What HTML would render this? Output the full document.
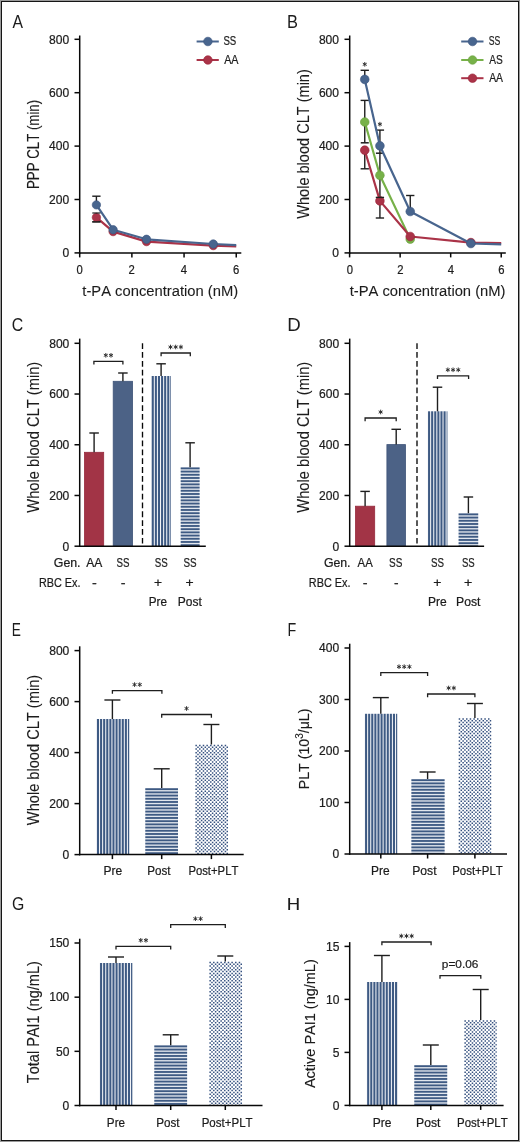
<!DOCTYPE html>
<html><head><meta charset="utf-8"><title>Figure</title>
<style>html,body{margin:0;padding:0;background:#fff;width:520px;height:1142px;overflow:hidden;font-family:"Liberation Sans",sans-serif}</style>
</head><body>
<svg width="520" height="1142" viewBox="0 0 520 1142" style="display:block">
<defs>



</defs>
<rect x="0" y="0" width="520" height="1142" fill="#ffffff"/>
<rect x="0.5" y="0.5" width="519" height="1141" fill="none" stroke="#9a9a9a" stroke-width="1"/>
<rect x="1.5" y="1.5" width="517" height="1139" fill="none" stroke="#151515" stroke-width="1"/>
<line x1="79.70" y1="35.50" x2="79.70" y2="253.65" stroke="#080808" stroke-width="1.5" />
<line x1="74.50" y1="252.90" x2="79.70" y2="252.90" stroke="#080808" stroke-width="1.5" />
<line x1="74.50" y1="199.50" x2="79.70" y2="199.50" stroke="#080808" stroke-width="1.5" />
<line x1="74.50" y1="146.10" x2="79.70" y2="146.10" stroke="#080808" stroke-width="1.5" />
<line x1="74.50" y1="92.70" x2="79.70" y2="92.70" stroke="#080808" stroke-width="1.5" />
<line x1="74.50" y1="39.30" x2="79.70" y2="39.30" stroke="#080808" stroke-width="1.5" />
<line x1="78.95" y1="252.90" x2="241.30" y2="252.90" stroke="#080808" stroke-width="1.5" />
<line x1="79.70" y1="252.90" x2="79.70" y2="257.40" stroke="#080808" stroke-width="1.5" />
<line x1="131.88" y1="252.90" x2="131.88" y2="257.40" stroke="#080808" stroke-width="1.5" />
<line x1="184.06" y1="252.90" x2="184.06" y2="257.40" stroke="#080808" stroke-width="1.5" />
<line x1="236.24" y1="252.90" x2="236.24" y2="257.40" stroke="#080808" stroke-width="1.5" />
<polyline points="96.40,217.40 113.10,231.60 146.49,241.60 213.28,245.60 236.24,246.40" fill="none" stroke="#aa3348" stroke-width="2.2" stroke-linejoin="round"/>
<line x1="96.40" y1="213.10" x2="96.40" y2="221.80" stroke="#1e1e1e" stroke-width="1.4" />
<line x1="92.25" y1="221.80" x2="100.55" y2="221.80" stroke="#1e1e1e" stroke-width="1.4" />
<circle cx="96.40" cy="217.40" r="4.20" fill="#aa3348" stroke="#9a2438" stroke-width="0.6"/>
<circle cx="113.10" cy="231.60" r="4.20" fill="#aa3348" stroke="#9a2438" stroke-width="0.6"/>
<circle cx="146.49" cy="241.60" r="4.20" fill="#aa3348" stroke="#9a2438" stroke-width="0.6"/>
<circle cx="213.28" cy="245.60" r="4.20" fill="#aa3348" stroke="#9a2438" stroke-width="0.6"/>
<line x1="96.40" y1="204.90" x2="96.40" y2="196.20" stroke="#1e1e1e" stroke-width="1.4" />
<line x1="92.25" y1="196.20" x2="100.55" y2="196.20" stroke="#1e1e1e" stroke-width="1.4" />
<polyline points="96.40,204.90 113.10,229.70 146.49,239.30 213.28,244.00 236.24,245.20" fill="none" stroke="#48658e" stroke-width="2.2" stroke-linejoin="round"/>
<circle cx="96.40" cy="204.90" r="4.20" fill="#48658e" stroke="#3c5680" stroke-width="0.6"/>
<circle cx="113.10" cy="229.70" r="4.20" fill="#48658e" stroke="#3c5680" stroke-width="0.6"/>
<circle cx="146.49" cy="239.30" r="4.20" fill="#48658e" stroke="#3c5680" stroke-width="0.6"/>
<circle cx="213.28" cy="244.00" r="4.20" fill="#48658e" stroke="#3c5680" stroke-width="0.6"/>
<line x1="92.30" y1="221.90" x2="100.50" y2="221.90" stroke="#1e1e1e" stroke-width="1.2" />
<line x1="92.30" y1="213.00" x2="100.50" y2="213.00" stroke="#1e1e1e" stroke-width="1.2" />
<line x1="196.60" y1="41.50" x2="218.80" y2="41.50" stroke="#48658e" stroke-width="2.0" />
<circle cx="207.90" cy="41.50" r="4.30" fill="#48658e" stroke="#3c5680" stroke-width="0.6"/>
<line x1="196.60" y1="60.00" x2="218.80" y2="60.00" stroke="#aa3348" stroke-width="2.0" />
<circle cx="207.90" cy="60.00" r="4.30" fill="#aa3348" stroke="#9a2438" stroke-width="0.6"/>
<line x1="349.70" y1="35.50" x2="349.70" y2="253.65" stroke="#080808" stroke-width="1.5" />
<line x1="344.50" y1="252.90" x2="349.70" y2="252.90" stroke="#080808" stroke-width="1.5" />
<line x1="344.50" y1="199.50" x2="349.70" y2="199.50" stroke="#080808" stroke-width="1.5" />
<line x1="344.50" y1="146.10" x2="349.70" y2="146.10" stroke="#080808" stroke-width="1.5" />
<line x1="344.50" y1="92.70" x2="349.70" y2="92.70" stroke="#080808" stroke-width="1.5" />
<line x1="344.50" y1="39.30" x2="349.70" y2="39.30" stroke="#080808" stroke-width="1.5" />
<line x1="348.95" y1="252.90" x2="505.80" y2="252.90" stroke="#080808" stroke-width="1.5" />
<line x1="349.60" y1="252.90" x2="349.60" y2="257.40" stroke="#080808" stroke-width="1.5" />
<line x1="400.14" y1="252.90" x2="400.14" y2="257.40" stroke="#080808" stroke-width="1.5" />
<line x1="450.68" y1="252.90" x2="450.68" y2="257.40" stroke="#080808" stroke-width="1.5" />
<line x1="501.22" y1="252.90" x2="501.22" y2="257.40" stroke="#080808" stroke-width="1.5" />
<line x1="364.76" y1="79.40" x2="364.76" y2="70.30" stroke="#1e1e1e" stroke-width="1.4" />
<line x1="360.61" y1="70.30" x2="368.91" y2="70.30" stroke="#1e1e1e" stroke-width="1.4" />
<line x1="364.76" y1="142.80" x2="364.76" y2="100.40" stroke="#1e1e1e" stroke-width="1.4" />
<line x1="360.61" y1="100.40" x2="368.91" y2="100.40" stroke="#1e1e1e" stroke-width="1.4" />
<line x1="360.76" y1="142.80" x2="368.76" y2="142.80" stroke="#1e1e1e" stroke-width="1.5" />
<line x1="364.76" y1="150.20" x2="364.76" y2="168.80" stroke="#1e1e1e" stroke-width="1.4" />
<line x1="360.61" y1="168.80" x2="368.91" y2="168.80" stroke="#1e1e1e" stroke-width="1.4" />
<line x1="379.92" y1="218.00" x2="379.92" y2="130.10" stroke="#1e1e1e" stroke-width="1.4" />
<line x1="375.77" y1="130.10" x2="384.07" y2="130.10" stroke="#1e1e1e" stroke-width="1.4" />
<line x1="375.92" y1="153.20" x2="383.92" y2="153.20" stroke="#1e1e1e" stroke-width="1.5" />
<line x1="410.25" y1="211.50" x2="410.25" y2="195.50" stroke="#1e1e1e" stroke-width="1.4" />
<line x1="406.10" y1="195.50" x2="414.40" y2="195.50" stroke="#1e1e1e" stroke-width="1.4" />
<polyline points="364.76,122.00 379.92,175.30 410.25,239.10" fill="none" stroke="#77b149" stroke-width="2.2" stroke-linejoin="round"/>
<circle cx="364.76" cy="122.00" r="4.35" fill="#77b149" stroke="#68a03c" stroke-width="0.6"/>
<circle cx="379.92" cy="175.30" r="4.35" fill="#77b149" stroke="#68a03c" stroke-width="0.6"/>
<circle cx="410.25" cy="239.10" r="4.35" fill="#77b149" stroke="#68a03c" stroke-width="0.6"/>
<polyline points="364.76,150.20 379.92,200.90 410.25,236.50 470.90,242.60 501.22,243.20" fill="none" stroke="#aa3348" stroke-width="2.2" stroke-linejoin="round"/>
<circle cx="364.76" cy="150.20" r="4.35" fill="#aa3348" stroke="#9a2438" stroke-width="0.6"/>
<circle cx="379.92" cy="200.90" r="4.35" fill="#aa3348" stroke="#9a2438" stroke-width="0.6"/>
<circle cx="410.25" cy="236.50" r="4.35" fill="#aa3348" stroke="#9a2438" stroke-width="0.6"/>
<circle cx="470.90" cy="242.60" r="4.35" fill="#aa3348" stroke="#9a2438" stroke-width="0.6"/>
<polyline points="364.76,79.40 379.92,145.80 410.25,211.50 470.90,243.50 501.22,244.40" fill="none" stroke="#48658e" stroke-width="2.2" stroke-linejoin="round"/>
<circle cx="364.76" cy="79.40" r="4.35" fill="#48658e" stroke="#3c5680" stroke-width="0.6"/>
<circle cx="379.92" cy="145.80" r="4.35" fill="#48658e" stroke="#3c5680" stroke-width="0.6"/>
<circle cx="410.25" cy="211.50" r="4.35" fill="#48658e" stroke="#3c5680" stroke-width="0.6"/>
<circle cx="470.90" cy="243.50" r="4.35" fill="#48658e" stroke="#3c5680" stroke-width="0.6"/>
<line x1="375.77" y1="197.40" x2="384.07" y2="197.40" stroke="#1e1e1e" stroke-width="1.4" />
<line x1="375.77" y1="218.00" x2="384.07" y2="218.00" stroke="#1e1e1e" stroke-width="1.4" />
<path d="M364.76,62.00L364.76,66.60M362.77,63.15L366.75,65.45M366.75,63.15L362.77,65.45" stroke="#2a2a2a" stroke-width="0.95" fill="none"/>
<path d="M379.92,121.90L379.92,126.50M377.93,123.05L381.92,125.35M381.92,123.05L377.93,125.35" stroke="#2a2a2a" stroke-width="0.95" fill="none"/>
<line x1="461.20" y1="41.50" x2="483.50" y2="41.50" stroke="#48658e" stroke-width="2.0" />
<circle cx="472.50" cy="41.50" r="4.30" fill="#48658e" stroke="#3c5680" stroke-width="0.6"/>
<line x1="461.20" y1="60.00" x2="483.50" y2="60.00" stroke="#77b149" stroke-width="2.0" />
<circle cx="472.50" cy="60.00" r="4.30" fill="#77b149" stroke="#68a03c" stroke-width="0.6"/>
<line x1="461.20" y1="78.20" x2="483.50" y2="78.20" stroke="#aa3348" stroke-width="2.0" />
<circle cx="472.50" cy="78.20" r="4.30" fill="#aa3348" stroke="#9a2438" stroke-width="0.6"/>
<line x1="79.70" y1="338.60" x2="79.70" y2="546.95" stroke="#080808" stroke-width="1.5" />
<line x1="74.50" y1="546.20" x2="79.70" y2="546.20" stroke="#080808" stroke-width="1.5" />
<line x1="74.50" y1="495.48" x2="79.70" y2="495.48" stroke="#080808" stroke-width="1.5" />
<line x1="74.50" y1="444.75" x2="79.70" y2="444.75" stroke="#080808" stroke-width="1.5" />
<line x1="74.50" y1="394.03" x2="79.70" y2="394.03" stroke="#080808" stroke-width="1.5" />
<line x1="74.50" y1="343.30" x2="79.70" y2="343.30" stroke="#080808" stroke-width="1.5" />
<rect x="84.50" y="452.30" width="19.20" height="93.90" fill="#a23446" stroke="#962a3c" stroke-width="0.8"/>
<rect x="113.20" y="381.30" width="19.40" height="164.90" fill="#4c6286" stroke="#3f5479" stroke-width="0.8"/>
<rect x="151.20" y="376.00" width="19.80" height="170.20" fill="#f2f4f8"/>
<g fill="#3e5a83"><rect x="151.75" y="376.00" width="2.05" height="170.20"/><rect x="154.85" y="376.00" width="2.05" height="170.20"/><rect x="157.95" y="376.00" width="2.05" height="170.20"/><rect x="161.05" y="376.00" width="2.05" height="170.20"/><rect x="164.15" y="376.00" width="2.05" height="170.20"/><rect x="167.25" y="376.00" width="2.05" height="170.20"/><rect x="170.35" y="376.00" width="0.65" height="170.20"/></g>
<rect x="180.70" y="467.20" width="18.90" height="79.00" fill="#e2e7ee"/>
<g fill="#3e5a83"><rect x="180.70" y="467.45" width="18.90" height="1.85"/><rect x="180.70" y="470.65" width="18.90" height="1.85"/><rect x="180.70" y="473.85" width="18.90" height="1.85"/><rect x="180.70" y="477.05" width="18.90" height="1.85"/><rect x="180.70" y="480.25" width="18.90" height="1.85"/><rect x="180.70" y="483.45" width="18.90" height="1.85"/><rect x="180.70" y="486.65" width="18.90" height="1.85"/><rect x="180.70" y="489.85" width="18.90" height="1.85"/><rect x="180.70" y="493.05" width="18.90" height="1.85"/><rect x="180.70" y="496.25" width="18.90" height="1.85"/><rect x="180.70" y="499.45" width="18.90" height="1.85"/><rect x="180.70" y="502.65" width="18.90" height="1.85"/><rect x="180.70" y="505.85" width="18.90" height="1.85"/><rect x="180.70" y="509.05" width="18.90" height="1.85"/><rect x="180.70" y="512.25" width="18.90" height="1.85"/><rect x="180.70" y="515.45" width="18.90" height="1.85"/><rect x="180.70" y="518.65" width="18.90" height="1.85"/><rect x="180.70" y="521.85" width="18.90" height="1.85"/><rect x="180.70" y="525.05" width="18.90" height="1.85"/><rect x="180.70" y="528.25" width="18.90" height="1.85"/><rect x="180.70" y="531.45" width="18.90" height="1.85"/><rect x="180.70" y="534.65" width="18.90" height="1.85"/><rect x="180.70" y="537.85" width="18.90" height="1.85"/><rect x="180.70" y="541.05" width="18.90" height="1.85"/><rect x="180.70" y="544.25" width="18.90" height="1.85"/></g>
<line x1="94.10" y1="452.30" x2="94.10" y2="433.00" stroke="#1e1e1e" stroke-width="1.4" />
<line x1="89.35" y1="433.00" x2="98.85" y2="433.00" stroke="#1e1e1e" stroke-width="1.4" />
<line x1="122.90" y1="381.30" x2="122.90" y2="373.00" stroke="#1e1e1e" stroke-width="1.4" />
<line x1="118.15" y1="373.00" x2="127.65" y2="373.00" stroke="#1e1e1e" stroke-width="1.4" />
<line x1="161.10" y1="376.00" x2="161.10" y2="363.80" stroke="#1e1e1e" stroke-width="1.4" />
<line x1="156.35" y1="363.80" x2="165.85" y2="363.80" stroke="#1e1e1e" stroke-width="1.4" />
<line x1="190.10" y1="467.20" x2="190.10" y2="442.80" stroke="#1e1e1e" stroke-width="1.4" />
<line x1="185.35" y1="442.80" x2="194.85" y2="442.80" stroke="#1e1e1e" stroke-width="1.4" />
<line x1="78.95" y1="546.20" x2="205.80" y2="546.20" stroke="#080808" stroke-width="1.5" />
<polyline points="93.90,364.50 93.90,361.30 122.90,361.30 122.90,364.50" fill="none" stroke="#1e1e1e" stroke-width="1.3"/>
<path d="M105.80,353.00L105.80,357.60M103.81,354.15L107.79,356.45M107.79,354.15L103.81,356.45M111.00,353.00L111.00,357.60M109.01,354.15L112.99,356.45M112.99,354.15L109.01,356.45" stroke="#2a2a2a" stroke-width="0.95" fill="none"/>
<polyline points="161.10,356.20 161.10,353.00 190.30,353.00 190.30,356.20" fill="none" stroke="#1e1e1e" stroke-width="1.3"/>
<path d="M170.50,344.70L170.50,349.30M168.51,345.85L172.49,348.15M172.49,345.85L168.51,348.15M175.70,344.70L175.70,349.30M173.71,345.85L177.69,348.15M177.69,345.85L173.71,348.15M180.90,344.70L180.90,349.30M178.91,345.85L182.89,348.15M182.89,345.85L178.91,348.15" stroke="#2a2a2a" stroke-width="0.95" fill="none"/>
<line x1="142.5" y1="343.2" x2="142.5" y2="543.6" stroke="#080808" stroke-width="1.35" stroke-dasharray="5.8,3.05"/>
<line x1="349.70" y1="338.60" x2="349.70" y2="546.95" stroke="#080808" stroke-width="1.5" />
<line x1="344.50" y1="546.20" x2="349.70" y2="546.20" stroke="#080808" stroke-width="1.5" />
<line x1="344.50" y1="495.48" x2="349.70" y2="495.48" stroke="#080808" stroke-width="1.5" />
<line x1="344.50" y1="444.75" x2="349.70" y2="444.75" stroke="#080808" stroke-width="1.5" />
<line x1="344.50" y1="394.03" x2="349.70" y2="394.03" stroke="#080808" stroke-width="1.5" />
<line x1="344.50" y1="343.30" x2="349.70" y2="343.30" stroke="#080808" stroke-width="1.5" />
<rect x="355.50" y="506.20" width="19.20" height="40.00" fill="#a23446" stroke="#962a3c" stroke-width="0.8"/>
<rect x="386.90" y="444.60" width="18.60" height="101.60" fill="#4c6286" stroke="#3f5479" stroke-width="0.8"/>
<rect x="427.50" y="411.30" width="19.90" height="134.90" fill="#f2f4f8"/>
<g fill="#3e5a83"><rect x="428.05" y="411.30" width="2.05" height="134.90"/><rect x="431.15" y="411.30" width="2.05" height="134.90"/><rect x="434.25" y="411.30" width="2.05" height="134.90"/><rect x="437.35" y="411.30" width="2.05" height="134.90"/><rect x="440.45" y="411.30" width="2.05" height="134.90"/><rect x="443.55" y="411.30" width="2.05" height="134.90"/><rect x="446.65" y="411.30" width="0.75" height="134.90"/></g>
<rect x="458.60" y="513.20" width="19.60" height="33.00" fill="#e2e7ee"/>
<g fill="#3e5a83"><rect x="458.60" y="513.45" width="19.60" height="1.85"/><rect x="458.60" y="516.65" width="19.60" height="1.85"/><rect x="458.60" y="519.85" width="19.60" height="1.85"/><rect x="458.60" y="523.05" width="19.60" height="1.85"/><rect x="458.60" y="526.25" width="19.60" height="1.85"/><rect x="458.60" y="529.45" width="19.60" height="1.85"/><rect x="458.60" y="532.65" width="19.60" height="1.85"/><rect x="458.60" y="535.85" width="19.60" height="1.85"/><rect x="458.60" y="539.05" width="19.60" height="1.85"/><rect x="458.60" y="542.25" width="19.60" height="1.85"/><rect x="458.60" y="545.45" width="19.60" height="0.75"/></g>
<line x1="365.10" y1="506.20" x2="365.10" y2="491.40" stroke="#1e1e1e" stroke-width="1.4" />
<line x1="360.35" y1="491.40" x2="369.85" y2="491.40" stroke="#1e1e1e" stroke-width="1.4" />
<line x1="396.20" y1="444.60" x2="396.20" y2="429.30" stroke="#1e1e1e" stroke-width="1.4" />
<line x1="391.45" y1="429.30" x2="400.95" y2="429.30" stroke="#1e1e1e" stroke-width="1.4" />
<line x1="437.50" y1="411.30" x2="437.50" y2="387.20" stroke="#1e1e1e" stroke-width="1.4" />
<line x1="432.75" y1="387.20" x2="442.25" y2="387.20" stroke="#1e1e1e" stroke-width="1.4" />
<line x1="468.40" y1="513.20" x2="468.40" y2="497.00" stroke="#1e1e1e" stroke-width="1.4" />
<line x1="463.65" y1="497.00" x2="473.15" y2="497.00" stroke="#1e1e1e" stroke-width="1.4" />
<line x1="348.95" y1="546.20" x2="484.10" y2="546.20" stroke="#080808" stroke-width="1.5" />
<polyline points="365.10,421.20 365.10,418.00 396.20,418.00 396.20,421.20" fill="none" stroke="#1e1e1e" stroke-width="1.3"/>
<path d="M380.65,409.70L380.65,414.30M378.66,410.85L382.64,413.15M382.64,410.85L378.66,413.15" stroke="#2a2a2a" stroke-width="0.95" fill="none"/>
<polyline points="437.50,379.00 437.50,375.80 468.60,375.80 468.60,379.00" fill="none" stroke="#1e1e1e" stroke-width="1.3"/>
<path d="M447.85,367.50L447.85,372.10M445.86,368.65L449.84,370.95M449.84,368.65L445.86,370.95M453.05,367.50L453.05,372.10M451.06,368.65L455.04,370.95M455.04,368.65L451.06,370.95M458.25,367.50L458.25,372.10M456.26,368.65L460.24,370.95M460.24,368.65L456.26,370.95" stroke="#2a2a2a" stroke-width="0.95" fill="none"/>
<line x1="417.0" y1="343.2" x2="417.0" y2="543.6" stroke="#080808" stroke-width="1.35" stroke-dasharray="5.8,3.05"/>
<line x1="79.70" y1="646.30" x2="79.70" y2="855.35" stroke="#080808" stroke-width="1.5" />
<line x1="74.50" y1="854.60" x2="79.70" y2="854.60" stroke="#080808" stroke-width="1.5" />
<line x1="74.50" y1="803.60" x2="79.70" y2="803.60" stroke="#080808" stroke-width="1.5" />
<line x1="74.50" y1="752.60" x2="79.70" y2="752.60" stroke="#080808" stroke-width="1.5" />
<line x1="74.50" y1="701.60" x2="79.70" y2="701.60" stroke="#080808" stroke-width="1.5" />
<line x1="74.50" y1="650.60" x2="79.70" y2="650.60" stroke="#080808" stroke-width="1.5" />
<rect x="96.40" y="719.00" width="32.80" height="135.60" fill="#f2f4f8"/>
<g fill="#3e5a83"><rect x="96.95" y="719.00" width="2.05" height="135.60"/><rect x="100.05" y="719.00" width="2.05" height="135.60"/><rect x="103.15" y="719.00" width="2.05" height="135.60"/><rect x="106.25" y="719.00" width="2.05" height="135.60"/><rect x="109.35" y="719.00" width="2.05" height="135.60"/><rect x="112.45" y="719.00" width="2.05" height="135.60"/><rect x="115.55" y="719.00" width="2.05" height="135.60"/><rect x="118.65" y="719.00" width="2.05" height="135.60"/><rect x="121.75" y="719.00" width="2.05" height="135.60"/><rect x="124.85" y="719.00" width="2.05" height="135.60"/><rect x="127.95" y="719.00" width="1.25" height="135.60"/></g>
<rect x="145.30" y="788.00" width="32.70" height="66.60" fill="#e2e7ee"/>
<g fill="#3e5a83"><rect x="145.30" y="788.25" width="32.70" height="1.85"/><rect x="145.30" y="791.45" width="32.70" height="1.85"/><rect x="145.30" y="794.65" width="32.70" height="1.85"/><rect x="145.30" y="797.85" width="32.70" height="1.85"/><rect x="145.30" y="801.05" width="32.70" height="1.85"/><rect x="145.30" y="804.25" width="32.70" height="1.85"/><rect x="145.30" y="807.45" width="32.70" height="1.85"/><rect x="145.30" y="810.65" width="32.70" height="1.85"/><rect x="145.30" y="813.85" width="32.70" height="1.85"/><rect x="145.30" y="817.05" width="32.70" height="1.85"/><rect x="145.30" y="820.25" width="32.70" height="1.85"/><rect x="145.30" y="823.45" width="32.70" height="1.85"/><rect x="145.30" y="826.65" width="32.70" height="1.85"/><rect x="145.30" y="829.85" width="32.70" height="1.85"/><rect x="145.30" y="833.05" width="32.70" height="1.85"/><rect x="145.30" y="836.25" width="32.70" height="1.85"/><rect x="145.30" y="839.45" width="32.70" height="1.85"/><rect x="145.30" y="842.65" width="32.70" height="1.85"/><rect x="145.30" y="845.85" width="32.70" height="1.85"/><rect x="145.30" y="849.05" width="32.70" height="1.85"/><rect x="145.30" y="852.25" width="32.70" height="1.85"/></g>
<rect x="195.20" y="744.50" width="32.80" height="110.10" fill="#ffffff"/>
<path fill="#34507f" d="M195.40 744.70h1.50v1.50h-1.50zM199.06 744.70h1.50v1.50h-1.50zM202.72 744.70h1.50v1.50h-1.50zM206.38 744.70h1.50v1.50h-1.50zM210.04 744.70h1.50v1.50h-1.50zM213.70 744.70h1.50v1.50h-1.50zM217.36 744.70h1.50v1.50h-1.50zM221.02 744.70h1.50v1.50h-1.50zM224.68 744.70h1.50v1.50h-1.50zM197.23 746.53h1.50v1.50h-1.50zM200.89 746.53h1.50v1.50h-1.50zM204.55 746.53h1.50v1.50h-1.50zM208.21 746.53h1.50v1.50h-1.50zM211.87 746.53h1.50v1.50h-1.50zM215.53 746.53h1.50v1.50h-1.50zM219.19 746.53h1.50v1.50h-1.50zM222.85 746.53h1.50v1.50h-1.50zM226.51 746.53h1.49v1.50h-1.49zM195.40 748.36h1.50v1.50h-1.50zM199.06 748.36h1.50v1.50h-1.50zM202.72 748.36h1.50v1.50h-1.50zM206.38 748.36h1.50v1.50h-1.50zM210.04 748.36h1.50v1.50h-1.50zM213.70 748.36h1.50v1.50h-1.50zM217.36 748.36h1.50v1.50h-1.50zM221.02 748.36h1.50v1.50h-1.50zM224.68 748.36h1.50v1.50h-1.50zM197.23 750.19h1.50v1.50h-1.50zM200.89 750.19h1.50v1.50h-1.50zM204.55 750.19h1.50v1.50h-1.50zM208.21 750.19h1.50v1.50h-1.50zM211.87 750.19h1.50v1.50h-1.50zM215.53 750.19h1.50v1.50h-1.50zM219.19 750.19h1.50v1.50h-1.50zM222.85 750.19h1.50v1.50h-1.50zM226.51 750.19h1.49v1.50h-1.49zM195.40 752.02h1.50v1.50h-1.50zM199.06 752.02h1.50v1.50h-1.50zM202.72 752.02h1.50v1.50h-1.50zM206.38 752.02h1.50v1.50h-1.50zM210.04 752.02h1.50v1.50h-1.50zM213.70 752.02h1.50v1.50h-1.50zM217.36 752.02h1.50v1.50h-1.50zM221.02 752.02h1.50v1.50h-1.50zM224.68 752.02h1.50v1.50h-1.50zM197.23 753.85h1.50v1.50h-1.50zM200.89 753.85h1.50v1.50h-1.50zM204.55 753.85h1.50v1.50h-1.50zM208.21 753.85h1.50v1.50h-1.50zM211.87 753.85h1.50v1.50h-1.50zM215.53 753.85h1.50v1.50h-1.50zM219.19 753.85h1.50v1.50h-1.50zM222.85 753.85h1.50v1.50h-1.50zM226.51 753.85h1.49v1.50h-1.49zM195.40 755.68h1.50v1.50h-1.50zM199.06 755.68h1.50v1.50h-1.50zM202.72 755.68h1.50v1.50h-1.50zM206.38 755.68h1.50v1.50h-1.50zM210.04 755.68h1.50v1.50h-1.50zM213.70 755.68h1.50v1.50h-1.50zM217.36 755.68h1.50v1.50h-1.50zM221.02 755.68h1.50v1.50h-1.50zM224.68 755.68h1.50v1.50h-1.50zM197.23 757.51h1.50v1.50h-1.50zM200.89 757.51h1.50v1.50h-1.50zM204.55 757.51h1.50v1.50h-1.50zM208.21 757.51h1.50v1.50h-1.50zM211.87 757.51h1.50v1.50h-1.50zM215.53 757.51h1.50v1.50h-1.50zM219.19 757.51h1.50v1.50h-1.50zM222.85 757.51h1.50v1.50h-1.50zM226.51 757.51h1.49v1.50h-1.49zM195.40 759.34h1.50v1.50h-1.50zM199.06 759.34h1.50v1.50h-1.50zM202.72 759.34h1.50v1.50h-1.50zM206.38 759.34h1.50v1.50h-1.50zM210.04 759.34h1.50v1.50h-1.50zM213.70 759.34h1.50v1.50h-1.50zM217.36 759.34h1.50v1.50h-1.50zM221.02 759.34h1.50v1.50h-1.50zM224.68 759.34h1.50v1.50h-1.50zM197.23 761.17h1.50v1.50h-1.50zM200.89 761.17h1.50v1.50h-1.50zM204.55 761.17h1.50v1.50h-1.50zM208.21 761.17h1.50v1.50h-1.50zM211.87 761.17h1.50v1.50h-1.50zM215.53 761.17h1.50v1.50h-1.50zM219.19 761.17h1.50v1.50h-1.50zM222.85 761.17h1.50v1.50h-1.50zM226.51 761.17h1.49v1.50h-1.49zM195.40 763.00h1.50v1.50h-1.50zM199.06 763.00h1.50v1.50h-1.50zM202.72 763.00h1.50v1.50h-1.50zM206.38 763.00h1.50v1.50h-1.50zM210.04 763.00h1.50v1.50h-1.50zM213.70 763.00h1.50v1.50h-1.50zM217.36 763.00h1.50v1.50h-1.50zM221.02 763.00h1.50v1.50h-1.50zM224.68 763.00h1.50v1.50h-1.50zM197.23 764.83h1.50v1.50h-1.50zM200.89 764.83h1.50v1.50h-1.50zM204.55 764.83h1.50v1.50h-1.50zM208.21 764.83h1.50v1.50h-1.50zM211.87 764.83h1.50v1.50h-1.50zM215.53 764.83h1.50v1.50h-1.50zM219.19 764.83h1.50v1.50h-1.50zM222.85 764.83h1.50v1.50h-1.50zM226.51 764.83h1.49v1.50h-1.49zM195.40 766.66h1.50v1.50h-1.50zM199.06 766.66h1.50v1.50h-1.50zM202.72 766.66h1.50v1.50h-1.50zM206.38 766.66h1.50v1.50h-1.50zM210.04 766.66h1.50v1.50h-1.50zM213.70 766.66h1.50v1.50h-1.50zM217.36 766.66h1.50v1.50h-1.50zM221.02 766.66h1.50v1.50h-1.50zM224.68 766.66h1.50v1.50h-1.50zM197.23 768.49h1.50v1.50h-1.50zM200.89 768.49h1.50v1.50h-1.50zM204.55 768.49h1.50v1.50h-1.50zM208.21 768.49h1.50v1.50h-1.50zM211.87 768.49h1.50v1.50h-1.50zM215.53 768.49h1.50v1.50h-1.50zM219.19 768.49h1.50v1.50h-1.50zM222.85 768.49h1.50v1.50h-1.50zM226.51 768.49h1.49v1.50h-1.49zM195.40 770.32h1.50v1.50h-1.50zM199.06 770.32h1.50v1.50h-1.50zM202.72 770.32h1.50v1.50h-1.50zM206.38 770.32h1.50v1.50h-1.50zM210.04 770.32h1.50v1.50h-1.50zM213.70 770.32h1.50v1.50h-1.50zM217.36 770.32h1.50v1.50h-1.50zM221.02 770.32h1.50v1.50h-1.50zM224.68 770.32h1.50v1.50h-1.50zM197.23 772.15h1.50v1.50h-1.50zM200.89 772.15h1.50v1.50h-1.50zM204.55 772.15h1.50v1.50h-1.50zM208.21 772.15h1.50v1.50h-1.50zM211.87 772.15h1.50v1.50h-1.50zM215.53 772.15h1.50v1.50h-1.50zM219.19 772.15h1.50v1.50h-1.50zM222.85 772.15h1.50v1.50h-1.50zM226.51 772.15h1.49v1.50h-1.49zM195.40 773.98h1.50v1.50h-1.50zM199.06 773.98h1.50v1.50h-1.50zM202.72 773.98h1.50v1.50h-1.50zM206.38 773.98h1.50v1.50h-1.50zM210.04 773.98h1.50v1.50h-1.50zM213.70 773.98h1.50v1.50h-1.50zM217.36 773.98h1.50v1.50h-1.50zM221.02 773.98h1.50v1.50h-1.50zM224.68 773.98h1.50v1.50h-1.50zM197.23 775.81h1.50v1.50h-1.50zM200.89 775.81h1.50v1.50h-1.50zM204.55 775.81h1.50v1.50h-1.50zM208.21 775.81h1.50v1.50h-1.50zM211.87 775.81h1.50v1.50h-1.50zM215.53 775.81h1.50v1.50h-1.50zM219.19 775.81h1.50v1.50h-1.50zM222.85 775.81h1.50v1.50h-1.50zM226.51 775.81h1.49v1.50h-1.49zM195.40 777.64h1.50v1.50h-1.50zM199.06 777.64h1.50v1.50h-1.50zM202.72 777.64h1.50v1.50h-1.50zM206.38 777.64h1.50v1.50h-1.50zM210.04 777.64h1.50v1.50h-1.50zM213.70 777.64h1.50v1.50h-1.50zM217.36 777.64h1.50v1.50h-1.50zM221.02 777.64h1.50v1.50h-1.50zM224.68 777.64h1.50v1.50h-1.50zM197.23 779.47h1.50v1.50h-1.50zM200.89 779.47h1.50v1.50h-1.50zM204.55 779.47h1.50v1.50h-1.50zM208.21 779.47h1.50v1.50h-1.50zM211.87 779.47h1.50v1.50h-1.50zM215.53 779.47h1.50v1.50h-1.50zM219.19 779.47h1.50v1.50h-1.50zM222.85 779.47h1.50v1.50h-1.50zM226.51 779.47h1.49v1.50h-1.49zM195.40 781.30h1.50v1.50h-1.50zM199.06 781.30h1.50v1.50h-1.50zM202.72 781.30h1.50v1.50h-1.50zM206.38 781.30h1.50v1.50h-1.50zM210.04 781.30h1.50v1.50h-1.50zM213.70 781.30h1.50v1.50h-1.50zM217.36 781.30h1.50v1.50h-1.50zM221.02 781.30h1.50v1.50h-1.50zM224.68 781.30h1.50v1.50h-1.50zM197.23 783.13h1.50v1.50h-1.50zM200.89 783.13h1.50v1.50h-1.50zM204.55 783.13h1.50v1.50h-1.50zM208.21 783.13h1.50v1.50h-1.50zM211.87 783.13h1.50v1.50h-1.50zM215.53 783.13h1.50v1.50h-1.50zM219.19 783.13h1.50v1.50h-1.50zM222.85 783.13h1.50v1.50h-1.50zM226.51 783.13h1.49v1.50h-1.49zM195.40 784.96h1.50v1.50h-1.50zM199.06 784.96h1.50v1.50h-1.50zM202.72 784.96h1.50v1.50h-1.50zM206.38 784.96h1.50v1.50h-1.50zM210.04 784.96h1.50v1.50h-1.50zM213.70 784.96h1.50v1.50h-1.50zM217.36 784.96h1.50v1.50h-1.50zM221.02 784.96h1.50v1.50h-1.50zM224.68 784.96h1.50v1.50h-1.50zM197.23 786.79h1.50v1.50h-1.50zM200.89 786.79h1.50v1.50h-1.50zM204.55 786.79h1.50v1.50h-1.50zM208.21 786.79h1.50v1.50h-1.50zM211.87 786.79h1.50v1.50h-1.50zM215.53 786.79h1.50v1.50h-1.50zM219.19 786.79h1.50v1.50h-1.50zM222.85 786.79h1.50v1.50h-1.50zM226.51 786.79h1.49v1.50h-1.49zM195.40 788.62h1.50v1.50h-1.50zM199.06 788.62h1.50v1.50h-1.50zM202.72 788.62h1.50v1.50h-1.50zM206.38 788.62h1.50v1.50h-1.50zM210.04 788.62h1.50v1.50h-1.50zM213.70 788.62h1.50v1.50h-1.50zM217.36 788.62h1.50v1.50h-1.50zM221.02 788.62h1.50v1.50h-1.50zM224.68 788.62h1.50v1.50h-1.50zM197.23 790.45h1.50v1.50h-1.50zM200.89 790.45h1.50v1.50h-1.50zM204.55 790.45h1.50v1.50h-1.50zM208.21 790.45h1.50v1.50h-1.50zM211.87 790.45h1.50v1.50h-1.50zM215.53 790.45h1.50v1.50h-1.50zM219.19 790.45h1.50v1.50h-1.50zM222.85 790.45h1.50v1.50h-1.50zM226.51 790.45h1.49v1.50h-1.49zM195.40 792.28h1.50v1.50h-1.50zM199.06 792.28h1.50v1.50h-1.50zM202.72 792.28h1.50v1.50h-1.50zM206.38 792.28h1.50v1.50h-1.50zM210.04 792.28h1.50v1.50h-1.50zM213.70 792.28h1.50v1.50h-1.50zM217.36 792.28h1.50v1.50h-1.50zM221.02 792.28h1.50v1.50h-1.50zM224.68 792.28h1.50v1.50h-1.50zM197.23 794.11h1.50v1.50h-1.50zM200.89 794.11h1.50v1.50h-1.50zM204.55 794.11h1.50v1.50h-1.50zM208.21 794.11h1.50v1.50h-1.50zM211.87 794.11h1.50v1.50h-1.50zM215.53 794.11h1.50v1.50h-1.50zM219.19 794.11h1.50v1.50h-1.50zM222.85 794.11h1.50v1.50h-1.50zM226.51 794.11h1.49v1.50h-1.49zM195.40 795.94h1.50v1.50h-1.50zM199.06 795.94h1.50v1.50h-1.50zM202.72 795.94h1.50v1.50h-1.50zM206.38 795.94h1.50v1.50h-1.50zM210.04 795.94h1.50v1.50h-1.50zM213.70 795.94h1.50v1.50h-1.50zM217.36 795.94h1.50v1.50h-1.50zM221.02 795.94h1.50v1.50h-1.50zM224.68 795.94h1.50v1.50h-1.50zM197.23 797.77h1.50v1.50h-1.50zM200.89 797.77h1.50v1.50h-1.50zM204.55 797.77h1.50v1.50h-1.50zM208.21 797.77h1.50v1.50h-1.50zM211.87 797.77h1.50v1.50h-1.50zM215.53 797.77h1.50v1.50h-1.50zM219.19 797.77h1.50v1.50h-1.50zM222.85 797.77h1.50v1.50h-1.50zM226.51 797.77h1.49v1.50h-1.49zM195.40 799.60h1.50v1.50h-1.50zM199.06 799.60h1.50v1.50h-1.50zM202.72 799.60h1.50v1.50h-1.50zM206.38 799.60h1.50v1.50h-1.50zM210.04 799.60h1.50v1.50h-1.50zM213.70 799.60h1.50v1.50h-1.50zM217.36 799.60h1.50v1.50h-1.50zM221.02 799.60h1.50v1.50h-1.50zM224.68 799.60h1.50v1.50h-1.50zM197.23 801.43h1.50v1.50h-1.50zM200.89 801.43h1.50v1.50h-1.50zM204.55 801.43h1.50v1.50h-1.50zM208.21 801.43h1.50v1.50h-1.50zM211.87 801.43h1.50v1.50h-1.50zM215.53 801.43h1.50v1.50h-1.50zM219.19 801.43h1.50v1.50h-1.50zM222.85 801.43h1.50v1.50h-1.50zM226.51 801.43h1.49v1.50h-1.49zM195.40 803.26h1.50v1.50h-1.50zM199.06 803.26h1.50v1.50h-1.50zM202.72 803.26h1.50v1.50h-1.50zM206.38 803.26h1.50v1.50h-1.50zM210.04 803.26h1.50v1.50h-1.50zM213.70 803.26h1.50v1.50h-1.50zM217.36 803.26h1.50v1.50h-1.50zM221.02 803.26h1.50v1.50h-1.50zM224.68 803.26h1.50v1.50h-1.50zM197.23 805.09h1.50v1.50h-1.50zM200.89 805.09h1.50v1.50h-1.50zM204.55 805.09h1.50v1.50h-1.50zM208.21 805.09h1.50v1.50h-1.50zM211.87 805.09h1.50v1.50h-1.50zM215.53 805.09h1.50v1.50h-1.50zM219.19 805.09h1.50v1.50h-1.50zM222.85 805.09h1.50v1.50h-1.50zM226.51 805.09h1.49v1.50h-1.49zM195.40 806.92h1.50v1.50h-1.50zM199.06 806.92h1.50v1.50h-1.50zM202.72 806.92h1.50v1.50h-1.50zM206.38 806.92h1.50v1.50h-1.50zM210.04 806.92h1.50v1.50h-1.50zM213.70 806.92h1.50v1.50h-1.50zM217.36 806.92h1.50v1.50h-1.50zM221.02 806.92h1.50v1.50h-1.50zM224.68 806.92h1.50v1.50h-1.50zM197.23 808.75h1.50v1.50h-1.50zM200.89 808.75h1.50v1.50h-1.50zM204.55 808.75h1.50v1.50h-1.50zM208.21 808.75h1.50v1.50h-1.50zM211.87 808.75h1.50v1.50h-1.50zM215.53 808.75h1.50v1.50h-1.50zM219.19 808.75h1.50v1.50h-1.50zM222.85 808.75h1.50v1.50h-1.50zM226.51 808.75h1.49v1.50h-1.49zM195.40 810.58h1.50v1.50h-1.50zM199.06 810.58h1.50v1.50h-1.50zM202.72 810.58h1.50v1.50h-1.50zM206.38 810.58h1.50v1.50h-1.50zM210.04 810.58h1.50v1.50h-1.50zM213.70 810.58h1.50v1.50h-1.50zM217.36 810.58h1.50v1.50h-1.50zM221.02 810.58h1.50v1.50h-1.50zM224.68 810.58h1.50v1.50h-1.50zM197.23 812.41h1.50v1.50h-1.50zM200.89 812.41h1.50v1.50h-1.50zM204.55 812.41h1.50v1.50h-1.50zM208.21 812.41h1.50v1.50h-1.50zM211.87 812.41h1.50v1.50h-1.50zM215.53 812.41h1.50v1.50h-1.50zM219.19 812.41h1.50v1.50h-1.50zM222.85 812.41h1.50v1.50h-1.50zM226.51 812.41h1.49v1.50h-1.49zM195.40 814.24h1.50v1.50h-1.50zM199.06 814.24h1.50v1.50h-1.50zM202.72 814.24h1.50v1.50h-1.50zM206.38 814.24h1.50v1.50h-1.50zM210.04 814.24h1.50v1.50h-1.50zM213.70 814.24h1.50v1.50h-1.50zM217.36 814.24h1.50v1.50h-1.50zM221.02 814.24h1.50v1.50h-1.50zM224.68 814.24h1.50v1.50h-1.50zM197.23 816.07h1.50v1.50h-1.50zM200.89 816.07h1.50v1.50h-1.50zM204.55 816.07h1.50v1.50h-1.50zM208.21 816.07h1.50v1.50h-1.50zM211.87 816.07h1.50v1.50h-1.50zM215.53 816.07h1.50v1.50h-1.50zM219.19 816.07h1.50v1.50h-1.50zM222.85 816.07h1.50v1.50h-1.50zM226.51 816.07h1.49v1.50h-1.49zM195.40 817.90h1.50v1.50h-1.50zM199.06 817.90h1.50v1.50h-1.50zM202.72 817.90h1.50v1.50h-1.50zM206.38 817.90h1.50v1.50h-1.50zM210.04 817.90h1.50v1.50h-1.50zM213.70 817.90h1.50v1.50h-1.50zM217.36 817.90h1.50v1.50h-1.50zM221.02 817.90h1.50v1.50h-1.50zM224.68 817.90h1.50v1.50h-1.50zM197.23 819.73h1.50v1.50h-1.50zM200.89 819.73h1.50v1.50h-1.50zM204.55 819.73h1.50v1.50h-1.50zM208.21 819.73h1.50v1.50h-1.50zM211.87 819.73h1.50v1.50h-1.50zM215.53 819.73h1.50v1.50h-1.50zM219.19 819.73h1.50v1.50h-1.50zM222.85 819.73h1.50v1.50h-1.50zM226.51 819.73h1.49v1.50h-1.49zM195.40 821.56h1.50v1.50h-1.50zM199.06 821.56h1.50v1.50h-1.50zM202.72 821.56h1.50v1.50h-1.50zM206.38 821.56h1.50v1.50h-1.50zM210.04 821.56h1.50v1.50h-1.50zM213.70 821.56h1.50v1.50h-1.50zM217.36 821.56h1.50v1.50h-1.50zM221.02 821.56h1.50v1.50h-1.50zM224.68 821.56h1.50v1.50h-1.50zM197.23 823.39h1.50v1.50h-1.50zM200.89 823.39h1.50v1.50h-1.50zM204.55 823.39h1.50v1.50h-1.50zM208.21 823.39h1.50v1.50h-1.50zM211.87 823.39h1.50v1.50h-1.50zM215.53 823.39h1.50v1.50h-1.50zM219.19 823.39h1.50v1.50h-1.50zM222.85 823.39h1.50v1.50h-1.50zM226.51 823.39h1.49v1.50h-1.49zM195.40 825.22h1.50v1.50h-1.50zM199.06 825.22h1.50v1.50h-1.50zM202.72 825.22h1.50v1.50h-1.50zM206.38 825.22h1.50v1.50h-1.50zM210.04 825.22h1.50v1.50h-1.50zM213.70 825.22h1.50v1.50h-1.50zM217.36 825.22h1.50v1.50h-1.50zM221.02 825.22h1.50v1.50h-1.50zM224.68 825.22h1.50v1.50h-1.50zM197.23 827.05h1.50v1.50h-1.50zM200.89 827.05h1.50v1.50h-1.50zM204.55 827.05h1.50v1.50h-1.50zM208.21 827.05h1.50v1.50h-1.50zM211.87 827.05h1.50v1.50h-1.50zM215.53 827.05h1.50v1.50h-1.50zM219.19 827.05h1.50v1.50h-1.50zM222.85 827.05h1.50v1.50h-1.50zM226.51 827.05h1.49v1.50h-1.49zM195.40 828.88h1.50v1.50h-1.50zM199.06 828.88h1.50v1.50h-1.50zM202.72 828.88h1.50v1.50h-1.50zM206.38 828.88h1.50v1.50h-1.50zM210.04 828.88h1.50v1.50h-1.50zM213.70 828.88h1.50v1.50h-1.50zM217.36 828.88h1.50v1.50h-1.50zM221.02 828.88h1.50v1.50h-1.50zM224.68 828.88h1.50v1.50h-1.50zM197.23 830.71h1.50v1.50h-1.50zM200.89 830.71h1.50v1.50h-1.50zM204.55 830.71h1.50v1.50h-1.50zM208.21 830.71h1.50v1.50h-1.50zM211.87 830.71h1.50v1.50h-1.50zM215.53 830.71h1.50v1.50h-1.50zM219.19 830.71h1.50v1.50h-1.50zM222.85 830.71h1.50v1.50h-1.50zM226.51 830.71h1.49v1.50h-1.49zM195.40 832.54h1.50v1.50h-1.50zM199.06 832.54h1.50v1.50h-1.50zM202.72 832.54h1.50v1.50h-1.50zM206.38 832.54h1.50v1.50h-1.50zM210.04 832.54h1.50v1.50h-1.50zM213.70 832.54h1.50v1.50h-1.50zM217.36 832.54h1.50v1.50h-1.50zM221.02 832.54h1.50v1.50h-1.50zM224.68 832.54h1.50v1.50h-1.50zM197.23 834.37h1.50v1.50h-1.50zM200.89 834.37h1.50v1.50h-1.50zM204.55 834.37h1.50v1.50h-1.50zM208.21 834.37h1.50v1.50h-1.50zM211.87 834.37h1.50v1.50h-1.50zM215.53 834.37h1.50v1.50h-1.50zM219.19 834.37h1.50v1.50h-1.50zM222.85 834.37h1.50v1.50h-1.50zM226.51 834.37h1.49v1.50h-1.49zM195.40 836.20h1.50v1.50h-1.50zM199.06 836.20h1.50v1.50h-1.50zM202.72 836.20h1.50v1.50h-1.50zM206.38 836.20h1.50v1.50h-1.50zM210.04 836.20h1.50v1.50h-1.50zM213.70 836.20h1.50v1.50h-1.50zM217.36 836.20h1.50v1.50h-1.50zM221.02 836.20h1.50v1.50h-1.50zM224.68 836.20h1.50v1.50h-1.50zM197.23 838.03h1.50v1.50h-1.50zM200.89 838.03h1.50v1.50h-1.50zM204.55 838.03h1.50v1.50h-1.50zM208.21 838.03h1.50v1.50h-1.50zM211.87 838.03h1.50v1.50h-1.50zM215.53 838.03h1.50v1.50h-1.50zM219.19 838.03h1.50v1.50h-1.50zM222.85 838.03h1.50v1.50h-1.50zM226.51 838.03h1.49v1.50h-1.49zM195.40 839.86h1.50v1.50h-1.50zM199.06 839.86h1.50v1.50h-1.50zM202.72 839.86h1.50v1.50h-1.50zM206.38 839.86h1.50v1.50h-1.50zM210.04 839.86h1.50v1.50h-1.50zM213.70 839.86h1.50v1.50h-1.50zM217.36 839.86h1.50v1.50h-1.50zM221.02 839.86h1.50v1.50h-1.50zM224.68 839.86h1.50v1.50h-1.50zM197.23 841.69h1.50v1.50h-1.50zM200.89 841.69h1.50v1.50h-1.50zM204.55 841.69h1.50v1.50h-1.50zM208.21 841.69h1.50v1.50h-1.50zM211.87 841.69h1.50v1.50h-1.50zM215.53 841.69h1.50v1.50h-1.50zM219.19 841.69h1.50v1.50h-1.50zM222.85 841.69h1.50v1.50h-1.50zM226.51 841.69h1.49v1.50h-1.49zM195.40 843.52h1.50v1.50h-1.50zM199.06 843.52h1.50v1.50h-1.50zM202.72 843.52h1.50v1.50h-1.50zM206.38 843.52h1.50v1.50h-1.50zM210.04 843.52h1.50v1.50h-1.50zM213.70 843.52h1.50v1.50h-1.50zM217.36 843.52h1.50v1.50h-1.50zM221.02 843.52h1.50v1.50h-1.50zM224.68 843.52h1.50v1.50h-1.50zM197.23 845.35h1.50v1.50h-1.50zM200.89 845.35h1.50v1.50h-1.50zM204.55 845.35h1.50v1.50h-1.50zM208.21 845.35h1.50v1.50h-1.50zM211.87 845.35h1.50v1.50h-1.50zM215.53 845.35h1.50v1.50h-1.50zM219.19 845.35h1.50v1.50h-1.50zM222.85 845.35h1.50v1.50h-1.50zM226.51 845.35h1.49v1.50h-1.49zM195.40 847.18h1.50v1.50h-1.50zM199.06 847.18h1.50v1.50h-1.50zM202.72 847.18h1.50v1.50h-1.50zM206.38 847.18h1.50v1.50h-1.50zM210.04 847.18h1.50v1.50h-1.50zM213.70 847.18h1.50v1.50h-1.50zM217.36 847.18h1.50v1.50h-1.50zM221.02 847.18h1.50v1.50h-1.50zM224.68 847.18h1.50v1.50h-1.50zM197.23 849.01h1.50v1.50h-1.50zM200.89 849.01h1.50v1.50h-1.50zM204.55 849.01h1.50v1.50h-1.50zM208.21 849.01h1.50v1.50h-1.50zM211.87 849.01h1.50v1.50h-1.50zM215.53 849.01h1.50v1.50h-1.50zM219.19 849.01h1.50v1.50h-1.50zM222.85 849.01h1.50v1.50h-1.50zM226.51 849.01h1.49v1.50h-1.49zM195.40 850.84h1.50v1.50h-1.50zM199.06 850.84h1.50v1.50h-1.50zM202.72 850.84h1.50v1.50h-1.50zM206.38 850.84h1.50v1.50h-1.50zM210.04 850.84h1.50v1.50h-1.50zM213.70 850.84h1.50v1.50h-1.50zM217.36 850.84h1.50v1.50h-1.50zM221.02 850.84h1.50v1.50h-1.50zM224.68 850.84h1.50v1.50h-1.50zM197.23 852.67h1.50v1.50h-1.50zM200.89 852.67h1.50v1.50h-1.50zM204.55 852.67h1.50v1.50h-1.50zM208.21 852.67h1.50v1.50h-1.50zM211.87 852.67h1.50v1.50h-1.50zM215.53 852.67h1.50v1.50h-1.50zM219.19 852.67h1.50v1.50h-1.50zM222.85 852.67h1.50v1.50h-1.50zM226.51 852.67h1.49v1.50h-1.49z"/>
<line x1="112.40" y1="719.00" x2="112.40" y2="700.00" stroke="#1e1e1e" stroke-width="1.4" />
<line x1="104.40" y1="700.00" x2="120.40" y2="700.00" stroke="#1e1e1e" stroke-width="1.4" />
<line x1="161.70" y1="788.00" x2="161.70" y2="768.80" stroke="#1e1e1e" stroke-width="1.4" />
<line x1="153.70" y1="768.80" x2="169.70" y2="768.80" stroke="#1e1e1e" stroke-width="1.4" />
<line x1="211.40" y1="744.50" x2="211.40" y2="724.50" stroke="#1e1e1e" stroke-width="1.4" />
<line x1="203.40" y1="724.50" x2="219.40" y2="724.50" stroke="#1e1e1e" stroke-width="1.4" />
<line x1="78.95" y1="854.60" x2="243.70" y2="854.60" stroke="#080808" stroke-width="1.5" />
<line x1="112.40" y1="854.60" x2="112.40" y2="859.10" stroke="#080808" stroke-width="1.5" />
<line x1="161.70" y1="854.60" x2="161.70" y2="859.10" stroke="#080808" stroke-width="1.5" />
<line x1="211.40" y1="854.60" x2="211.40" y2="859.10" stroke="#080808" stroke-width="1.5" />
<polyline points="112.40,693.80 112.40,690.60 161.90,690.60 161.90,693.80" fill="none" stroke="#1e1e1e" stroke-width="1.3"/>
<path d="M134.55,682.30L134.55,686.90M132.56,683.45L136.54,685.75M136.54,683.45L132.56,685.75M139.75,682.30L139.75,686.90M137.76,683.45L141.74,685.75M141.74,683.45L137.76,685.75" stroke="#2a2a2a" stroke-width="0.95" fill="none"/>
<polyline points="161.70,717.70 161.70,714.50 211.40,714.50 211.40,717.70" fill="none" stroke="#1e1e1e" stroke-width="1.3"/>
<path d="M186.55,706.20L186.55,710.80M184.56,707.35L188.54,709.65M188.54,707.35L184.56,709.65" stroke="#2a2a2a" stroke-width="0.95" fill="none"/>
<line x1="349.70" y1="643.70" x2="349.70" y2="854.75" stroke="#080808" stroke-width="1.5" />
<line x1="344.50" y1="854.00" x2="349.70" y2="854.00" stroke="#080808" stroke-width="1.5" />
<line x1="344.50" y1="802.50" x2="349.70" y2="802.50" stroke="#080808" stroke-width="1.5" />
<line x1="344.50" y1="751.00" x2="349.70" y2="751.00" stroke="#080808" stroke-width="1.5" />
<line x1="344.50" y1="699.50" x2="349.70" y2="699.50" stroke="#080808" stroke-width="1.5" />
<line x1="344.50" y1="648.00" x2="349.70" y2="648.00" stroke="#080808" stroke-width="1.5" />
<rect x="364.50" y="713.80" width="32.70" height="140.20" fill="#f2f4f8"/>
<g fill="#3e5a83"><rect x="365.05" y="713.80" width="2.05" height="140.20"/><rect x="368.15" y="713.80" width="2.05" height="140.20"/><rect x="371.25" y="713.80" width="2.05" height="140.20"/><rect x="374.35" y="713.80" width="2.05" height="140.20"/><rect x="377.45" y="713.80" width="2.05" height="140.20"/><rect x="380.55" y="713.80" width="2.05" height="140.20"/><rect x="383.65" y="713.80" width="2.05" height="140.20"/><rect x="386.75" y="713.80" width="2.05" height="140.20"/><rect x="389.85" y="713.80" width="2.05" height="140.20"/><rect x="392.95" y="713.80" width="2.05" height="140.20"/><rect x="396.05" y="713.80" width="1.15" height="140.20"/></g>
<rect x="411.40" y="779.00" width="33.20" height="75.00" fill="#e2e7ee"/>
<g fill="#3e5a83"><rect x="411.40" y="779.25" width="33.20" height="1.85"/><rect x="411.40" y="782.45" width="33.20" height="1.85"/><rect x="411.40" y="785.65" width="33.20" height="1.85"/><rect x="411.40" y="788.85" width="33.20" height="1.85"/><rect x="411.40" y="792.05" width="33.20" height="1.85"/><rect x="411.40" y="795.25" width="33.20" height="1.85"/><rect x="411.40" y="798.45" width="33.20" height="1.85"/><rect x="411.40" y="801.65" width="33.20" height="1.85"/><rect x="411.40" y="804.85" width="33.20" height="1.85"/><rect x="411.40" y="808.05" width="33.20" height="1.85"/><rect x="411.40" y="811.25" width="33.20" height="1.85"/><rect x="411.40" y="814.45" width="33.20" height="1.85"/><rect x="411.40" y="817.65" width="33.20" height="1.85"/><rect x="411.40" y="820.85" width="33.20" height="1.85"/><rect x="411.40" y="824.05" width="33.20" height="1.85"/><rect x="411.40" y="827.25" width="33.20" height="1.85"/><rect x="411.40" y="830.45" width="33.20" height="1.85"/><rect x="411.40" y="833.65" width="33.20" height="1.85"/><rect x="411.40" y="836.85" width="33.20" height="1.85"/><rect x="411.40" y="840.05" width="33.20" height="1.85"/><rect x="411.40" y="843.25" width="33.20" height="1.85"/><rect x="411.40" y="846.45" width="33.20" height="1.85"/><rect x="411.40" y="849.65" width="33.20" height="1.85"/><rect x="411.40" y="852.85" width="33.20" height="1.15"/></g>
<rect x="458.50" y="718.00" width="32.70" height="136.00" fill="#ffffff"/>
<path fill="#34507f" d="M458.70 718.20h1.50v1.50h-1.50zM462.36 718.20h1.50v1.50h-1.50zM466.02 718.20h1.50v1.50h-1.50zM469.68 718.20h1.50v1.50h-1.50zM473.34 718.20h1.50v1.50h-1.50zM477.00 718.20h1.50v1.50h-1.50zM480.66 718.20h1.50v1.50h-1.50zM484.32 718.20h1.50v1.50h-1.50zM487.98 718.20h1.50v1.50h-1.50zM460.53 720.03h1.50v1.50h-1.50zM464.19 720.03h1.50v1.50h-1.50zM467.85 720.03h1.50v1.50h-1.50zM471.51 720.03h1.50v1.50h-1.50zM475.17 720.03h1.50v1.50h-1.50zM478.83 720.03h1.50v1.50h-1.50zM482.49 720.03h1.50v1.50h-1.50zM486.15 720.03h1.50v1.50h-1.50zM489.81 720.03h1.39v1.50h-1.39zM458.70 721.86h1.50v1.50h-1.50zM462.36 721.86h1.50v1.50h-1.50zM466.02 721.86h1.50v1.50h-1.50zM469.68 721.86h1.50v1.50h-1.50zM473.34 721.86h1.50v1.50h-1.50zM477.00 721.86h1.50v1.50h-1.50zM480.66 721.86h1.50v1.50h-1.50zM484.32 721.86h1.50v1.50h-1.50zM487.98 721.86h1.50v1.50h-1.50zM460.53 723.69h1.50v1.50h-1.50zM464.19 723.69h1.50v1.50h-1.50zM467.85 723.69h1.50v1.50h-1.50zM471.51 723.69h1.50v1.50h-1.50zM475.17 723.69h1.50v1.50h-1.50zM478.83 723.69h1.50v1.50h-1.50zM482.49 723.69h1.50v1.50h-1.50zM486.15 723.69h1.50v1.50h-1.50zM489.81 723.69h1.39v1.50h-1.39zM458.70 725.52h1.50v1.50h-1.50zM462.36 725.52h1.50v1.50h-1.50zM466.02 725.52h1.50v1.50h-1.50zM469.68 725.52h1.50v1.50h-1.50zM473.34 725.52h1.50v1.50h-1.50zM477.00 725.52h1.50v1.50h-1.50zM480.66 725.52h1.50v1.50h-1.50zM484.32 725.52h1.50v1.50h-1.50zM487.98 725.52h1.50v1.50h-1.50zM460.53 727.35h1.50v1.50h-1.50zM464.19 727.35h1.50v1.50h-1.50zM467.85 727.35h1.50v1.50h-1.50zM471.51 727.35h1.50v1.50h-1.50zM475.17 727.35h1.50v1.50h-1.50zM478.83 727.35h1.50v1.50h-1.50zM482.49 727.35h1.50v1.50h-1.50zM486.15 727.35h1.50v1.50h-1.50zM489.81 727.35h1.39v1.50h-1.39zM458.70 729.18h1.50v1.50h-1.50zM462.36 729.18h1.50v1.50h-1.50zM466.02 729.18h1.50v1.50h-1.50zM469.68 729.18h1.50v1.50h-1.50zM473.34 729.18h1.50v1.50h-1.50zM477.00 729.18h1.50v1.50h-1.50zM480.66 729.18h1.50v1.50h-1.50zM484.32 729.18h1.50v1.50h-1.50zM487.98 729.18h1.50v1.50h-1.50zM460.53 731.01h1.50v1.50h-1.50zM464.19 731.01h1.50v1.50h-1.50zM467.85 731.01h1.50v1.50h-1.50zM471.51 731.01h1.50v1.50h-1.50zM475.17 731.01h1.50v1.50h-1.50zM478.83 731.01h1.50v1.50h-1.50zM482.49 731.01h1.50v1.50h-1.50zM486.15 731.01h1.50v1.50h-1.50zM489.81 731.01h1.39v1.50h-1.39zM458.70 732.84h1.50v1.50h-1.50zM462.36 732.84h1.50v1.50h-1.50zM466.02 732.84h1.50v1.50h-1.50zM469.68 732.84h1.50v1.50h-1.50zM473.34 732.84h1.50v1.50h-1.50zM477.00 732.84h1.50v1.50h-1.50zM480.66 732.84h1.50v1.50h-1.50zM484.32 732.84h1.50v1.50h-1.50zM487.98 732.84h1.50v1.50h-1.50zM460.53 734.67h1.50v1.50h-1.50zM464.19 734.67h1.50v1.50h-1.50zM467.85 734.67h1.50v1.50h-1.50zM471.51 734.67h1.50v1.50h-1.50zM475.17 734.67h1.50v1.50h-1.50zM478.83 734.67h1.50v1.50h-1.50zM482.49 734.67h1.50v1.50h-1.50zM486.15 734.67h1.50v1.50h-1.50zM489.81 734.67h1.39v1.50h-1.39zM458.70 736.50h1.50v1.50h-1.50zM462.36 736.50h1.50v1.50h-1.50zM466.02 736.50h1.50v1.50h-1.50zM469.68 736.50h1.50v1.50h-1.50zM473.34 736.50h1.50v1.50h-1.50zM477.00 736.50h1.50v1.50h-1.50zM480.66 736.50h1.50v1.50h-1.50zM484.32 736.50h1.50v1.50h-1.50zM487.98 736.50h1.50v1.50h-1.50zM460.53 738.33h1.50v1.50h-1.50zM464.19 738.33h1.50v1.50h-1.50zM467.85 738.33h1.50v1.50h-1.50zM471.51 738.33h1.50v1.50h-1.50zM475.17 738.33h1.50v1.50h-1.50zM478.83 738.33h1.50v1.50h-1.50zM482.49 738.33h1.50v1.50h-1.50zM486.15 738.33h1.50v1.50h-1.50zM489.81 738.33h1.39v1.50h-1.39zM458.70 740.16h1.50v1.50h-1.50zM462.36 740.16h1.50v1.50h-1.50zM466.02 740.16h1.50v1.50h-1.50zM469.68 740.16h1.50v1.50h-1.50zM473.34 740.16h1.50v1.50h-1.50zM477.00 740.16h1.50v1.50h-1.50zM480.66 740.16h1.50v1.50h-1.50zM484.32 740.16h1.50v1.50h-1.50zM487.98 740.16h1.50v1.50h-1.50zM460.53 741.99h1.50v1.50h-1.50zM464.19 741.99h1.50v1.50h-1.50zM467.85 741.99h1.50v1.50h-1.50zM471.51 741.99h1.50v1.50h-1.50zM475.17 741.99h1.50v1.50h-1.50zM478.83 741.99h1.50v1.50h-1.50zM482.49 741.99h1.50v1.50h-1.50zM486.15 741.99h1.50v1.50h-1.50zM489.81 741.99h1.39v1.50h-1.39zM458.70 743.82h1.50v1.50h-1.50zM462.36 743.82h1.50v1.50h-1.50zM466.02 743.82h1.50v1.50h-1.50zM469.68 743.82h1.50v1.50h-1.50zM473.34 743.82h1.50v1.50h-1.50zM477.00 743.82h1.50v1.50h-1.50zM480.66 743.82h1.50v1.50h-1.50zM484.32 743.82h1.50v1.50h-1.50zM487.98 743.82h1.50v1.50h-1.50zM460.53 745.65h1.50v1.50h-1.50zM464.19 745.65h1.50v1.50h-1.50zM467.85 745.65h1.50v1.50h-1.50zM471.51 745.65h1.50v1.50h-1.50zM475.17 745.65h1.50v1.50h-1.50zM478.83 745.65h1.50v1.50h-1.50zM482.49 745.65h1.50v1.50h-1.50zM486.15 745.65h1.50v1.50h-1.50zM489.81 745.65h1.39v1.50h-1.39zM458.70 747.48h1.50v1.50h-1.50zM462.36 747.48h1.50v1.50h-1.50zM466.02 747.48h1.50v1.50h-1.50zM469.68 747.48h1.50v1.50h-1.50zM473.34 747.48h1.50v1.50h-1.50zM477.00 747.48h1.50v1.50h-1.50zM480.66 747.48h1.50v1.50h-1.50zM484.32 747.48h1.50v1.50h-1.50zM487.98 747.48h1.50v1.50h-1.50zM460.53 749.31h1.50v1.50h-1.50zM464.19 749.31h1.50v1.50h-1.50zM467.85 749.31h1.50v1.50h-1.50zM471.51 749.31h1.50v1.50h-1.50zM475.17 749.31h1.50v1.50h-1.50zM478.83 749.31h1.50v1.50h-1.50zM482.49 749.31h1.50v1.50h-1.50zM486.15 749.31h1.50v1.50h-1.50zM489.81 749.31h1.39v1.50h-1.39zM458.70 751.14h1.50v1.50h-1.50zM462.36 751.14h1.50v1.50h-1.50zM466.02 751.14h1.50v1.50h-1.50zM469.68 751.14h1.50v1.50h-1.50zM473.34 751.14h1.50v1.50h-1.50zM477.00 751.14h1.50v1.50h-1.50zM480.66 751.14h1.50v1.50h-1.50zM484.32 751.14h1.50v1.50h-1.50zM487.98 751.14h1.50v1.50h-1.50zM460.53 752.97h1.50v1.50h-1.50zM464.19 752.97h1.50v1.50h-1.50zM467.85 752.97h1.50v1.50h-1.50zM471.51 752.97h1.50v1.50h-1.50zM475.17 752.97h1.50v1.50h-1.50zM478.83 752.97h1.50v1.50h-1.50zM482.49 752.97h1.50v1.50h-1.50zM486.15 752.97h1.50v1.50h-1.50zM489.81 752.97h1.39v1.50h-1.39zM458.70 754.80h1.50v1.50h-1.50zM462.36 754.80h1.50v1.50h-1.50zM466.02 754.80h1.50v1.50h-1.50zM469.68 754.80h1.50v1.50h-1.50zM473.34 754.80h1.50v1.50h-1.50zM477.00 754.80h1.50v1.50h-1.50zM480.66 754.80h1.50v1.50h-1.50zM484.32 754.80h1.50v1.50h-1.50zM487.98 754.80h1.50v1.50h-1.50zM460.53 756.63h1.50v1.50h-1.50zM464.19 756.63h1.50v1.50h-1.50zM467.85 756.63h1.50v1.50h-1.50zM471.51 756.63h1.50v1.50h-1.50zM475.17 756.63h1.50v1.50h-1.50zM478.83 756.63h1.50v1.50h-1.50zM482.49 756.63h1.50v1.50h-1.50zM486.15 756.63h1.50v1.50h-1.50zM489.81 756.63h1.39v1.50h-1.39zM458.70 758.46h1.50v1.50h-1.50zM462.36 758.46h1.50v1.50h-1.50zM466.02 758.46h1.50v1.50h-1.50zM469.68 758.46h1.50v1.50h-1.50zM473.34 758.46h1.50v1.50h-1.50zM477.00 758.46h1.50v1.50h-1.50zM480.66 758.46h1.50v1.50h-1.50zM484.32 758.46h1.50v1.50h-1.50zM487.98 758.46h1.50v1.50h-1.50zM460.53 760.29h1.50v1.50h-1.50zM464.19 760.29h1.50v1.50h-1.50zM467.85 760.29h1.50v1.50h-1.50zM471.51 760.29h1.50v1.50h-1.50zM475.17 760.29h1.50v1.50h-1.50zM478.83 760.29h1.50v1.50h-1.50zM482.49 760.29h1.50v1.50h-1.50zM486.15 760.29h1.50v1.50h-1.50zM489.81 760.29h1.39v1.50h-1.39zM458.70 762.12h1.50v1.50h-1.50zM462.36 762.12h1.50v1.50h-1.50zM466.02 762.12h1.50v1.50h-1.50zM469.68 762.12h1.50v1.50h-1.50zM473.34 762.12h1.50v1.50h-1.50zM477.00 762.12h1.50v1.50h-1.50zM480.66 762.12h1.50v1.50h-1.50zM484.32 762.12h1.50v1.50h-1.50zM487.98 762.12h1.50v1.50h-1.50zM460.53 763.95h1.50v1.50h-1.50zM464.19 763.95h1.50v1.50h-1.50zM467.85 763.95h1.50v1.50h-1.50zM471.51 763.95h1.50v1.50h-1.50zM475.17 763.95h1.50v1.50h-1.50zM478.83 763.95h1.50v1.50h-1.50zM482.49 763.95h1.50v1.50h-1.50zM486.15 763.95h1.50v1.50h-1.50zM489.81 763.95h1.39v1.50h-1.39zM458.70 765.78h1.50v1.50h-1.50zM462.36 765.78h1.50v1.50h-1.50zM466.02 765.78h1.50v1.50h-1.50zM469.68 765.78h1.50v1.50h-1.50zM473.34 765.78h1.50v1.50h-1.50zM477.00 765.78h1.50v1.50h-1.50zM480.66 765.78h1.50v1.50h-1.50zM484.32 765.78h1.50v1.50h-1.50zM487.98 765.78h1.50v1.50h-1.50zM460.53 767.61h1.50v1.50h-1.50zM464.19 767.61h1.50v1.50h-1.50zM467.85 767.61h1.50v1.50h-1.50zM471.51 767.61h1.50v1.50h-1.50zM475.17 767.61h1.50v1.50h-1.50zM478.83 767.61h1.50v1.50h-1.50zM482.49 767.61h1.50v1.50h-1.50zM486.15 767.61h1.50v1.50h-1.50zM489.81 767.61h1.39v1.50h-1.39zM458.70 769.44h1.50v1.50h-1.50zM462.36 769.44h1.50v1.50h-1.50zM466.02 769.44h1.50v1.50h-1.50zM469.68 769.44h1.50v1.50h-1.50zM473.34 769.44h1.50v1.50h-1.50zM477.00 769.44h1.50v1.50h-1.50zM480.66 769.44h1.50v1.50h-1.50zM484.32 769.44h1.50v1.50h-1.50zM487.98 769.44h1.50v1.50h-1.50zM460.53 771.27h1.50v1.50h-1.50zM464.19 771.27h1.50v1.50h-1.50zM467.85 771.27h1.50v1.50h-1.50zM471.51 771.27h1.50v1.50h-1.50zM475.17 771.27h1.50v1.50h-1.50zM478.83 771.27h1.50v1.50h-1.50zM482.49 771.27h1.50v1.50h-1.50zM486.15 771.27h1.50v1.50h-1.50zM489.81 771.27h1.39v1.50h-1.39zM458.70 773.10h1.50v1.50h-1.50zM462.36 773.10h1.50v1.50h-1.50zM466.02 773.10h1.50v1.50h-1.50zM469.68 773.10h1.50v1.50h-1.50zM473.34 773.10h1.50v1.50h-1.50zM477.00 773.10h1.50v1.50h-1.50zM480.66 773.10h1.50v1.50h-1.50zM484.32 773.10h1.50v1.50h-1.50zM487.98 773.10h1.50v1.50h-1.50zM460.53 774.93h1.50v1.50h-1.50zM464.19 774.93h1.50v1.50h-1.50zM467.85 774.93h1.50v1.50h-1.50zM471.51 774.93h1.50v1.50h-1.50zM475.17 774.93h1.50v1.50h-1.50zM478.83 774.93h1.50v1.50h-1.50zM482.49 774.93h1.50v1.50h-1.50zM486.15 774.93h1.50v1.50h-1.50zM489.81 774.93h1.39v1.50h-1.39zM458.70 776.76h1.50v1.50h-1.50zM462.36 776.76h1.50v1.50h-1.50zM466.02 776.76h1.50v1.50h-1.50zM469.68 776.76h1.50v1.50h-1.50zM473.34 776.76h1.50v1.50h-1.50zM477.00 776.76h1.50v1.50h-1.50zM480.66 776.76h1.50v1.50h-1.50zM484.32 776.76h1.50v1.50h-1.50zM487.98 776.76h1.50v1.50h-1.50zM460.53 778.59h1.50v1.50h-1.50zM464.19 778.59h1.50v1.50h-1.50zM467.85 778.59h1.50v1.50h-1.50zM471.51 778.59h1.50v1.50h-1.50zM475.17 778.59h1.50v1.50h-1.50zM478.83 778.59h1.50v1.50h-1.50zM482.49 778.59h1.50v1.50h-1.50zM486.15 778.59h1.50v1.50h-1.50zM489.81 778.59h1.39v1.50h-1.39zM458.70 780.42h1.50v1.50h-1.50zM462.36 780.42h1.50v1.50h-1.50zM466.02 780.42h1.50v1.50h-1.50zM469.68 780.42h1.50v1.50h-1.50zM473.34 780.42h1.50v1.50h-1.50zM477.00 780.42h1.50v1.50h-1.50zM480.66 780.42h1.50v1.50h-1.50zM484.32 780.42h1.50v1.50h-1.50zM487.98 780.42h1.50v1.50h-1.50zM460.53 782.25h1.50v1.50h-1.50zM464.19 782.25h1.50v1.50h-1.50zM467.85 782.25h1.50v1.50h-1.50zM471.51 782.25h1.50v1.50h-1.50zM475.17 782.25h1.50v1.50h-1.50zM478.83 782.25h1.50v1.50h-1.50zM482.49 782.25h1.50v1.50h-1.50zM486.15 782.25h1.50v1.50h-1.50zM489.81 782.25h1.39v1.50h-1.39zM458.70 784.08h1.50v1.50h-1.50zM462.36 784.08h1.50v1.50h-1.50zM466.02 784.08h1.50v1.50h-1.50zM469.68 784.08h1.50v1.50h-1.50zM473.34 784.08h1.50v1.50h-1.50zM477.00 784.08h1.50v1.50h-1.50zM480.66 784.08h1.50v1.50h-1.50zM484.32 784.08h1.50v1.50h-1.50zM487.98 784.08h1.50v1.50h-1.50zM460.53 785.91h1.50v1.50h-1.50zM464.19 785.91h1.50v1.50h-1.50zM467.85 785.91h1.50v1.50h-1.50zM471.51 785.91h1.50v1.50h-1.50zM475.17 785.91h1.50v1.50h-1.50zM478.83 785.91h1.50v1.50h-1.50zM482.49 785.91h1.50v1.50h-1.50zM486.15 785.91h1.50v1.50h-1.50zM489.81 785.91h1.39v1.50h-1.39zM458.70 787.74h1.50v1.50h-1.50zM462.36 787.74h1.50v1.50h-1.50zM466.02 787.74h1.50v1.50h-1.50zM469.68 787.74h1.50v1.50h-1.50zM473.34 787.74h1.50v1.50h-1.50zM477.00 787.74h1.50v1.50h-1.50zM480.66 787.74h1.50v1.50h-1.50zM484.32 787.74h1.50v1.50h-1.50zM487.98 787.74h1.50v1.50h-1.50zM460.53 789.57h1.50v1.50h-1.50zM464.19 789.57h1.50v1.50h-1.50zM467.85 789.57h1.50v1.50h-1.50zM471.51 789.57h1.50v1.50h-1.50zM475.17 789.57h1.50v1.50h-1.50zM478.83 789.57h1.50v1.50h-1.50zM482.49 789.57h1.50v1.50h-1.50zM486.15 789.57h1.50v1.50h-1.50zM489.81 789.57h1.39v1.50h-1.39zM458.70 791.40h1.50v1.50h-1.50zM462.36 791.40h1.50v1.50h-1.50zM466.02 791.40h1.50v1.50h-1.50zM469.68 791.40h1.50v1.50h-1.50zM473.34 791.40h1.50v1.50h-1.50zM477.00 791.40h1.50v1.50h-1.50zM480.66 791.40h1.50v1.50h-1.50zM484.32 791.40h1.50v1.50h-1.50zM487.98 791.40h1.50v1.50h-1.50zM460.53 793.23h1.50v1.50h-1.50zM464.19 793.23h1.50v1.50h-1.50zM467.85 793.23h1.50v1.50h-1.50zM471.51 793.23h1.50v1.50h-1.50zM475.17 793.23h1.50v1.50h-1.50zM478.83 793.23h1.50v1.50h-1.50zM482.49 793.23h1.50v1.50h-1.50zM486.15 793.23h1.50v1.50h-1.50zM489.81 793.23h1.39v1.50h-1.39zM458.70 795.06h1.50v1.50h-1.50zM462.36 795.06h1.50v1.50h-1.50zM466.02 795.06h1.50v1.50h-1.50zM469.68 795.06h1.50v1.50h-1.50zM473.34 795.06h1.50v1.50h-1.50zM477.00 795.06h1.50v1.50h-1.50zM480.66 795.06h1.50v1.50h-1.50zM484.32 795.06h1.50v1.50h-1.50zM487.98 795.06h1.50v1.50h-1.50zM460.53 796.89h1.50v1.50h-1.50zM464.19 796.89h1.50v1.50h-1.50zM467.85 796.89h1.50v1.50h-1.50zM471.51 796.89h1.50v1.50h-1.50zM475.17 796.89h1.50v1.50h-1.50zM478.83 796.89h1.50v1.50h-1.50zM482.49 796.89h1.50v1.50h-1.50zM486.15 796.89h1.50v1.50h-1.50zM489.81 796.89h1.39v1.50h-1.39zM458.70 798.72h1.50v1.50h-1.50zM462.36 798.72h1.50v1.50h-1.50zM466.02 798.72h1.50v1.50h-1.50zM469.68 798.72h1.50v1.50h-1.50zM473.34 798.72h1.50v1.50h-1.50zM477.00 798.72h1.50v1.50h-1.50zM480.66 798.72h1.50v1.50h-1.50zM484.32 798.72h1.50v1.50h-1.50zM487.98 798.72h1.50v1.50h-1.50zM460.53 800.55h1.50v1.50h-1.50zM464.19 800.55h1.50v1.50h-1.50zM467.85 800.55h1.50v1.50h-1.50zM471.51 800.55h1.50v1.50h-1.50zM475.17 800.55h1.50v1.50h-1.50zM478.83 800.55h1.50v1.50h-1.50zM482.49 800.55h1.50v1.50h-1.50zM486.15 800.55h1.50v1.50h-1.50zM489.81 800.55h1.39v1.50h-1.39zM458.70 802.38h1.50v1.50h-1.50zM462.36 802.38h1.50v1.50h-1.50zM466.02 802.38h1.50v1.50h-1.50zM469.68 802.38h1.50v1.50h-1.50zM473.34 802.38h1.50v1.50h-1.50zM477.00 802.38h1.50v1.50h-1.50zM480.66 802.38h1.50v1.50h-1.50zM484.32 802.38h1.50v1.50h-1.50zM487.98 802.38h1.50v1.50h-1.50zM460.53 804.21h1.50v1.50h-1.50zM464.19 804.21h1.50v1.50h-1.50zM467.85 804.21h1.50v1.50h-1.50zM471.51 804.21h1.50v1.50h-1.50zM475.17 804.21h1.50v1.50h-1.50zM478.83 804.21h1.50v1.50h-1.50zM482.49 804.21h1.50v1.50h-1.50zM486.15 804.21h1.50v1.50h-1.50zM489.81 804.21h1.39v1.50h-1.39zM458.70 806.04h1.50v1.50h-1.50zM462.36 806.04h1.50v1.50h-1.50zM466.02 806.04h1.50v1.50h-1.50zM469.68 806.04h1.50v1.50h-1.50zM473.34 806.04h1.50v1.50h-1.50zM477.00 806.04h1.50v1.50h-1.50zM480.66 806.04h1.50v1.50h-1.50zM484.32 806.04h1.50v1.50h-1.50zM487.98 806.04h1.50v1.50h-1.50zM460.53 807.87h1.50v1.50h-1.50zM464.19 807.87h1.50v1.50h-1.50zM467.85 807.87h1.50v1.50h-1.50zM471.51 807.87h1.50v1.50h-1.50zM475.17 807.87h1.50v1.50h-1.50zM478.83 807.87h1.50v1.50h-1.50zM482.49 807.87h1.50v1.50h-1.50zM486.15 807.87h1.50v1.50h-1.50zM489.81 807.87h1.39v1.50h-1.39zM458.70 809.70h1.50v1.50h-1.50zM462.36 809.70h1.50v1.50h-1.50zM466.02 809.70h1.50v1.50h-1.50zM469.68 809.70h1.50v1.50h-1.50zM473.34 809.70h1.50v1.50h-1.50zM477.00 809.70h1.50v1.50h-1.50zM480.66 809.70h1.50v1.50h-1.50zM484.32 809.70h1.50v1.50h-1.50zM487.98 809.70h1.50v1.50h-1.50zM460.53 811.53h1.50v1.50h-1.50zM464.19 811.53h1.50v1.50h-1.50zM467.85 811.53h1.50v1.50h-1.50zM471.51 811.53h1.50v1.50h-1.50zM475.17 811.53h1.50v1.50h-1.50zM478.83 811.53h1.50v1.50h-1.50zM482.49 811.53h1.50v1.50h-1.50zM486.15 811.53h1.50v1.50h-1.50zM489.81 811.53h1.39v1.50h-1.39zM458.70 813.36h1.50v1.50h-1.50zM462.36 813.36h1.50v1.50h-1.50zM466.02 813.36h1.50v1.50h-1.50zM469.68 813.36h1.50v1.50h-1.50zM473.34 813.36h1.50v1.50h-1.50zM477.00 813.36h1.50v1.50h-1.50zM480.66 813.36h1.50v1.50h-1.50zM484.32 813.36h1.50v1.50h-1.50zM487.98 813.36h1.50v1.50h-1.50zM460.53 815.19h1.50v1.50h-1.50zM464.19 815.19h1.50v1.50h-1.50zM467.85 815.19h1.50v1.50h-1.50zM471.51 815.19h1.50v1.50h-1.50zM475.17 815.19h1.50v1.50h-1.50zM478.83 815.19h1.50v1.50h-1.50zM482.49 815.19h1.50v1.50h-1.50zM486.15 815.19h1.50v1.50h-1.50zM489.81 815.19h1.39v1.50h-1.39zM458.70 817.02h1.50v1.50h-1.50zM462.36 817.02h1.50v1.50h-1.50zM466.02 817.02h1.50v1.50h-1.50zM469.68 817.02h1.50v1.50h-1.50zM473.34 817.02h1.50v1.50h-1.50zM477.00 817.02h1.50v1.50h-1.50zM480.66 817.02h1.50v1.50h-1.50zM484.32 817.02h1.50v1.50h-1.50zM487.98 817.02h1.50v1.50h-1.50zM460.53 818.85h1.50v1.50h-1.50zM464.19 818.85h1.50v1.50h-1.50zM467.85 818.85h1.50v1.50h-1.50zM471.51 818.85h1.50v1.50h-1.50zM475.17 818.85h1.50v1.50h-1.50zM478.83 818.85h1.50v1.50h-1.50zM482.49 818.85h1.50v1.50h-1.50zM486.15 818.85h1.50v1.50h-1.50zM489.81 818.85h1.39v1.50h-1.39zM458.70 820.68h1.50v1.50h-1.50zM462.36 820.68h1.50v1.50h-1.50zM466.02 820.68h1.50v1.50h-1.50zM469.68 820.68h1.50v1.50h-1.50zM473.34 820.68h1.50v1.50h-1.50zM477.00 820.68h1.50v1.50h-1.50zM480.66 820.68h1.50v1.50h-1.50zM484.32 820.68h1.50v1.50h-1.50zM487.98 820.68h1.50v1.50h-1.50zM460.53 822.51h1.50v1.50h-1.50zM464.19 822.51h1.50v1.50h-1.50zM467.85 822.51h1.50v1.50h-1.50zM471.51 822.51h1.50v1.50h-1.50zM475.17 822.51h1.50v1.50h-1.50zM478.83 822.51h1.50v1.50h-1.50zM482.49 822.51h1.50v1.50h-1.50zM486.15 822.51h1.50v1.50h-1.50zM489.81 822.51h1.39v1.50h-1.39zM458.70 824.34h1.50v1.50h-1.50zM462.36 824.34h1.50v1.50h-1.50zM466.02 824.34h1.50v1.50h-1.50zM469.68 824.34h1.50v1.50h-1.50zM473.34 824.34h1.50v1.50h-1.50zM477.00 824.34h1.50v1.50h-1.50zM480.66 824.34h1.50v1.50h-1.50zM484.32 824.34h1.50v1.50h-1.50zM487.98 824.34h1.50v1.50h-1.50zM460.53 826.17h1.50v1.50h-1.50zM464.19 826.17h1.50v1.50h-1.50zM467.85 826.17h1.50v1.50h-1.50zM471.51 826.17h1.50v1.50h-1.50zM475.17 826.17h1.50v1.50h-1.50zM478.83 826.17h1.50v1.50h-1.50zM482.49 826.17h1.50v1.50h-1.50zM486.15 826.17h1.50v1.50h-1.50zM489.81 826.17h1.39v1.50h-1.39zM458.70 828.00h1.50v1.50h-1.50zM462.36 828.00h1.50v1.50h-1.50zM466.02 828.00h1.50v1.50h-1.50zM469.68 828.00h1.50v1.50h-1.50zM473.34 828.00h1.50v1.50h-1.50zM477.00 828.00h1.50v1.50h-1.50zM480.66 828.00h1.50v1.50h-1.50zM484.32 828.00h1.50v1.50h-1.50zM487.98 828.00h1.50v1.50h-1.50zM460.53 829.83h1.50v1.50h-1.50zM464.19 829.83h1.50v1.50h-1.50zM467.85 829.83h1.50v1.50h-1.50zM471.51 829.83h1.50v1.50h-1.50zM475.17 829.83h1.50v1.50h-1.50zM478.83 829.83h1.50v1.50h-1.50zM482.49 829.83h1.50v1.50h-1.50zM486.15 829.83h1.50v1.50h-1.50zM489.81 829.83h1.39v1.50h-1.39zM458.70 831.66h1.50v1.50h-1.50zM462.36 831.66h1.50v1.50h-1.50zM466.02 831.66h1.50v1.50h-1.50zM469.68 831.66h1.50v1.50h-1.50zM473.34 831.66h1.50v1.50h-1.50zM477.00 831.66h1.50v1.50h-1.50zM480.66 831.66h1.50v1.50h-1.50zM484.32 831.66h1.50v1.50h-1.50zM487.98 831.66h1.50v1.50h-1.50zM460.53 833.49h1.50v1.50h-1.50zM464.19 833.49h1.50v1.50h-1.50zM467.85 833.49h1.50v1.50h-1.50zM471.51 833.49h1.50v1.50h-1.50zM475.17 833.49h1.50v1.50h-1.50zM478.83 833.49h1.50v1.50h-1.50zM482.49 833.49h1.50v1.50h-1.50zM486.15 833.49h1.50v1.50h-1.50zM489.81 833.49h1.39v1.50h-1.39zM458.70 835.32h1.50v1.50h-1.50zM462.36 835.32h1.50v1.50h-1.50zM466.02 835.32h1.50v1.50h-1.50zM469.68 835.32h1.50v1.50h-1.50zM473.34 835.32h1.50v1.50h-1.50zM477.00 835.32h1.50v1.50h-1.50zM480.66 835.32h1.50v1.50h-1.50zM484.32 835.32h1.50v1.50h-1.50zM487.98 835.32h1.50v1.50h-1.50zM460.53 837.15h1.50v1.50h-1.50zM464.19 837.15h1.50v1.50h-1.50zM467.85 837.15h1.50v1.50h-1.50zM471.51 837.15h1.50v1.50h-1.50zM475.17 837.15h1.50v1.50h-1.50zM478.83 837.15h1.50v1.50h-1.50zM482.49 837.15h1.50v1.50h-1.50zM486.15 837.15h1.50v1.50h-1.50zM489.81 837.15h1.39v1.50h-1.39zM458.70 838.98h1.50v1.50h-1.50zM462.36 838.98h1.50v1.50h-1.50zM466.02 838.98h1.50v1.50h-1.50zM469.68 838.98h1.50v1.50h-1.50zM473.34 838.98h1.50v1.50h-1.50zM477.00 838.98h1.50v1.50h-1.50zM480.66 838.98h1.50v1.50h-1.50zM484.32 838.98h1.50v1.50h-1.50zM487.98 838.98h1.50v1.50h-1.50zM460.53 840.81h1.50v1.50h-1.50zM464.19 840.81h1.50v1.50h-1.50zM467.85 840.81h1.50v1.50h-1.50zM471.51 840.81h1.50v1.50h-1.50zM475.17 840.81h1.50v1.50h-1.50zM478.83 840.81h1.50v1.50h-1.50zM482.49 840.81h1.50v1.50h-1.50zM486.15 840.81h1.50v1.50h-1.50zM489.81 840.81h1.39v1.50h-1.39zM458.70 842.64h1.50v1.50h-1.50zM462.36 842.64h1.50v1.50h-1.50zM466.02 842.64h1.50v1.50h-1.50zM469.68 842.64h1.50v1.50h-1.50zM473.34 842.64h1.50v1.50h-1.50zM477.00 842.64h1.50v1.50h-1.50zM480.66 842.64h1.50v1.50h-1.50zM484.32 842.64h1.50v1.50h-1.50zM487.98 842.64h1.50v1.50h-1.50zM460.53 844.47h1.50v1.50h-1.50zM464.19 844.47h1.50v1.50h-1.50zM467.85 844.47h1.50v1.50h-1.50zM471.51 844.47h1.50v1.50h-1.50zM475.17 844.47h1.50v1.50h-1.50zM478.83 844.47h1.50v1.50h-1.50zM482.49 844.47h1.50v1.50h-1.50zM486.15 844.47h1.50v1.50h-1.50zM489.81 844.47h1.39v1.50h-1.39zM458.70 846.30h1.50v1.50h-1.50zM462.36 846.30h1.50v1.50h-1.50zM466.02 846.30h1.50v1.50h-1.50zM469.68 846.30h1.50v1.50h-1.50zM473.34 846.30h1.50v1.50h-1.50zM477.00 846.30h1.50v1.50h-1.50zM480.66 846.30h1.50v1.50h-1.50zM484.32 846.30h1.50v1.50h-1.50zM487.98 846.30h1.50v1.50h-1.50zM460.53 848.13h1.50v1.50h-1.50zM464.19 848.13h1.50v1.50h-1.50zM467.85 848.13h1.50v1.50h-1.50zM471.51 848.13h1.50v1.50h-1.50zM475.17 848.13h1.50v1.50h-1.50zM478.83 848.13h1.50v1.50h-1.50zM482.49 848.13h1.50v1.50h-1.50zM486.15 848.13h1.50v1.50h-1.50zM489.81 848.13h1.39v1.50h-1.39zM458.70 849.96h1.50v1.50h-1.50zM462.36 849.96h1.50v1.50h-1.50zM466.02 849.96h1.50v1.50h-1.50zM469.68 849.96h1.50v1.50h-1.50zM473.34 849.96h1.50v1.50h-1.50zM477.00 849.96h1.50v1.50h-1.50zM480.66 849.96h1.50v1.50h-1.50zM484.32 849.96h1.50v1.50h-1.50zM487.98 849.96h1.50v1.50h-1.50zM460.53 851.79h1.50v1.50h-1.50zM464.19 851.79h1.50v1.50h-1.50zM467.85 851.79h1.50v1.50h-1.50zM471.51 851.79h1.50v1.50h-1.50zM475.17 851.79h1.50v1.50h-1.50zM478.83 851.79h1.50v1.50h-1.50zM482.49 851.79h1.50v1.50h-1.50zM486.15 851.79h1.50v1.50h-1.50zM489.81 851.79h1.39v1.50h-1.39zM458.70 853.62h1.50v0.38h-1.50zM462.36 853.62h1.50v0.38h-1.50zM466.02 853.62h1.50v0.38h-1.50zM469.68 853.62h1.50v0.38h-1.50zM473.34 853.62h1.50v0.38h-1.50zM477.00 853.62h1.50v0.38h-1.50zM480.66 853.62h1.50v0.38h-1.50zM484.32 853.62h1.50v0.38h-1.50zM487.98 853.62h1.50v0.38h-1.50z"/>
<line x1="380.80" y1="713.80" x2="380.80" y2="697.60" stroke="#1e1e1e" stroke-width="1.4" />
<line x1="372.80" y1="697.60" x2="388.80" y2="697.60" stroke="#1e1e1e" stroke-width="1.4" />
<line x1="427.60" y1="779.00" x2="427.60" y2="772.00" stroke="#1e1e1e" stroke-width="1.4" />
<line x1="419.60" y1="772.00" x2="435.60" y2="772.00" stroke="#1e1e1e" stroke-width="1.4" />
<line x1="474.90" y1="718.00" x2="474.90" y2="703.50" stroke="#1e1e1e" stroke-width="1.4" />
<line x1="466.90" y1="703.50" x2="482.90" y2="703.50" stroke="#1e1e1e" stroke-width="1.4" />
<line x1="348.95" y1="854.00" x2="507.00" y2="854.00" stroke="#080808" stroke-width="1.5" />
<line x1="380.80" y1="854.00" x2="380.80" y2="858.50" stroke="#080808" stroke-width="1.5" />
<line x1="427.60" y1="854.00" x2="427.60" y2="858.50" stroke="#080808" stroke-width="1.5" />
<line x1="474.90" y1="854.00" x2="474.90" y2="858.50" stroke="#080808" stroke-width="1.5" />
<polyline points="380.80,675.90 380.80,672.70 427.60,672.70 427.60,675.90" fill="none" stroke="#1e1e1e" stroke-width="1.3"/>
<path d="M399.00,664.40L399.00,669.00M397.01,665.55L400.99,667.85M400.99,665.55L397.01,667.85M404.20,664.40L404.20,669.00M402.21,665.55L406.19,667.85M406.19,665.55L402.21,667.85M409.40,664.40L409.40,669.00M407.41,665.55L411.39,667.85M411.39,665.55L407.41,667.85" stroke="#2a2a2a" stroke-width="0.95" fill="none"/>
<polyline points="427.60,697.20 427.60,694.00 474.90,694.00 474.90,697.20" fill="none" stroke="#1e1e1e" stroke-width="1.3"/>
<path d="M448.65,685.70L448.65,690.30M446.66,686.85L450.64,689.15M450.64,686.85L446.66,689.15M453.85,685.70L453.85,690.30M451.86,686.85L455.84,689.15M455.84,686.85L451.86,689.15" stroke="#2a2a2a" stroke-width="0.95" fill="none"/>
<line x1="79.70" y1="938.70" x2="79.70" y2="1106.25" stroke="#080808" stroke-width="1.5" />
<line x1="74.50" y1="1105.50" x2="79.70" y2="1105.50" stroke="#080808" stroke-width="1.5" />
<line x1="74.50" y1="1051.33" x2="79.70" y2="1051.33" stroke="#080808" stroke-width="1.5" />
<line x1="74.50" y1="997.17" x2="79.70" y2="997.17" stroke="#080808" stroke-width="1.5" />
<line x1="74.50" y1="943.00" x2="79.70" y2="943.00" stroke="#080808" stroke-width="1.5" />
<rect x="99.50" y="963.00" width="32.80" height="142.50" fill="#f2f4f8"/>
<g fill="#3e5a83"><rect x="100.05" y="963.00" width="2.05" height="142.50"/><rect x="103.15" y="963.00" width="2.05" height="142.50"/><rect x="106.25" y="963.00" width="2.05" height="142.50"/><rect x="109.35" y="963.00" width="2.05" height="142.50"/><rect x="112.45" y="963.00" width="2.05" height="142.50"/><rect x="115.55" y="963.00" width="2.05" height="142.50"/><rect x="118.65" y="963.00" width="2.05" height="142.50"/><rect x="121.75" y="963.00" width="2.05" height="142.50"/><rect x="124.85" y="963.00" width="2.05" height="142.50"/><rect x="127.95" y="963.00" width="2.05" height="142.50"/><rect x="131.05" y="963.00" width="1.25" height="142.50"/></g>
<rect x="154.30" y="1045.20" width="32.80" height="60.30" fill="#e2e7ee"/>
<g fill="#3e5a83"><rect x="154.30" y="1045.45" width="32.80" height="1.85"/><rect x="154.30" y="1048.65" width="32.80" height="1.85"/><rect x="154.30" y="1051.85" width="32.80" height="1.85"/><rect x="154.30" y="1055.05" width="32.80" height="1.85"/><rect x="154.30" y="1058.25" width="32.80" height="1.85"/><rect x="154.30" y="1061.45" width="32.80" height="1.85"/><rect x="154.30" y="1064.65" width="32.80" height="1.85"/><rect x="154.30" y="1067.85" width="32.80" height="1.85"/><rect x="154.30" y="1071.05" width="32.80" height="1.85"/><rect x="154.30" y="1074.25" width="32.80" height="1.85"/><rect x="154.30" y="1077.45" width="32.80" height="1.85"/><rect x="154.30" y="1080.65" width="32.80" height="1.85"/><rect x="154.30" y="1083.85" width="32.80" height="1.85"/><rect x="154.30" y="1087.05" width="32.80" height="1.85"/><rect x="154.30" y="1090.25" width="32.80" height="1.85"/><rect x="154.30" y="1093.45" width="32.80" height="1.85"/><rect x="154.30" y="1096.65" width="32.80" height="1.85"/><rect x="154.30" y="1099.85" width="32.80" height="1.85"/><rect x="154.30" y="1103.05" width="32.80" height="1.85"/></g>
<rect x="209.20" y="961.50" width="32.90" height="144.00" fill="#ffffff"/>
<path fill="#34507f" d="M209.40 961.70h1.50v1.50h-1.50zM213.06 961.70h1.50v1.50h-1.50zM216.72 961.70h1.50v1.50h-1.50zM220.38 961.70h1.50v1.50h-1.50zM224.04 961.70h1.50v1.50h-1.50zM227.70 961.70h1.50v1.50h-1.50zM231.36 961.70h1.50v1.50h-1.50zM235.02 961.70h1.50v1.50h-1.50zM238.68 961.70h1.50v1.50h-1.50zM211.23 963.53h1.50v1.50h-1.50zM214.89 963.53h1.50v1.50h-1.50zM218.55 963.53h1.50v1.50h-1.50zM222.21 963.53h1.50v1.50h-1.50zM225.87 963.53h1.50v1.50h-1.50zM229.53 963.53h1.50v1.50h-1.50zM233.19 963.53h1.50v1.50h-1.50zM236.85 963.53h1.50v1.50h-1.50zM240.51 963.53h1.50v1.50h-1.50zM209.40 965.36h1.50v1.50h-1.50zM213.06 965.36h1.50v1.50h-1.50zM216.72 965.36h1.50v1.50h-1.50zM220.38 965.36h1.50v1.50h-1.50zM224.04 965.36h1.50v1.50h-1.50zM227.70 965.36h1.50v1.50h-1.50zM231.36 965.36h1.50v1.50h-1.50zM235.02 965.36h1.50v1.50h-1.50zM238.68 965.36h1.50v1.50h-1.50zM211.23 967.19h1.50v1.50h-1.50zM214.89 967.19h1.50v1.50h-1.50zM218.55 967.19h1.50v1.50h-1.50zM222.21 967.19h1.50v1.50h-1.50zM225.87 967.19h1.50v1.50h-1.50zM229.53 967.19h1.50v1.50h-1.50zM233.19 967.19h1.50v1.50h-1.50zM236.85 967.19h1.50v1.50h-1.50zM240.51 967.19h1.50v1.50h-1.50zM209.40 969.02h1.50v1.50h-1.50zM213.06 969.02h1.50v1.50h-1.50zM216.72 969.02h1.50v1.50h-1.50zM220.38 969.02h1.50v1.50h-1.50zM224.04 969.02h1.50v1.50h-1.50zM227.70 969.02h1.50v1.50h-1.50zM231.36 969.02h1.50v1.50h-1.50zM235.02 969.02h1.50v1.50h-1.50zM238.68 969.02h1.50v1.50h-1.50zM211.23 970.85h1.50v1.50h-1.50zM214.89 970.85h1.50v1.50h-1.50zM218.55 970.85h1.50v1.50h-1.50zM222.21 970.85h1.50v1.50h-1.50zM225.87 970.85h1.50v1.50h-1.50zM229.53 970.85h1.50v1.50h-1.50zM233.19 970.85h1.50v1.50h-1.50zM236.85 970.85h1.50v1.50h-1.50zM240.51 970.85h1.50v1.50h-1.50zM209.40 972.68h1.50v1.50h-1.50zM213.06 972.68h1.50v1.50h-1.50zM216.72 972.68h1.50v1.50h-1.50zM220.38 972.68h1.50v1.50h-1.50zM224.04 972.68h1.50v1.50h-1.50zM227.70 972.68h1.50v1.50h-1.50zM231.36 972.68h1.50v1.50h-1.50zM235.02 972.68h1.50v1.50h-1.50zM238.68 972.68h1.50v1.50h-1.50zM211.23 974.51h1.50v1.50h-1.50zM214.89 974.51h1.50v1.50h-1.50zM218.55 974.51h1.50v1.50h-1.50zM222.21 974.51h1.50v1.50h-1.50zM225.87 974.51h1.50v1.50h-1.50zM229.53 974.51h1.50v1.50h-1.50zM233.19 974.51h1.50v1.50h-1.50zM236.85 974.51h1.50v1.50h-1.50zM240.51 974.51h1.50v1.50h-1.50zM209.40 976.34h1.50v1.50h-1.50zM213.06 976.34h1.50v1.50h-1.50zM216.72 976.34h1.50v1.50h-1.50zM220.38 976.34h1.50v1.50h-1.50zM224.04 976.34h1.50v1.50h-1.50zM227.70 976.34h1.50v1.50h-1.50zM231.36 976.34h1.50v1.50h-1.50zM235.02 976.34h1.50v1.50h-1.50zM238.68 976.34h1.50v1.50h-1.50zM211.23 978.17h1.50v1.50h-1.50zM214.89 978.17h1.50v1.50h-1.50zM218.55 978.17h1.50v1.50h-1.50zM222.21 978.17h1.50v1.50h-1.50zM225.87 978.17h1.50v1.50h-1.50zM229.53 978.17h1.50v1.50h-1.50zM233.19 978.17h1.50v1.50h-1.50zM236.85 978.17h1.50v1.50h-1.50zM240.51 978.17h1.50v1.50h-1.50zM209.40 980.00h1.50v1.50h-1.50zM213.06 980.00h1.50v1.50h-1.50zM216.72 980.00h1.50v1.50h-1.50zM220.38 980.00h1.50v1.50h-1.50zM224.04 980.00h1.50v1.50h-1.50zM227.70 980.00h1.50v1.50h-1.50zM231.36 980.00h1.50v1.50h-1.50zM235.02 980.00h1.50v1.50h-1.50zM238.68 980.00h1.50v1.50h-1.50zM211.23 981.83h1.50v1.50h-1.50zM214.89 981.83h1.50v1.50h-1.50zM218.55 981.83h1.50v1.50h-1.50zM222.21 981.83h1.50v1.50h-1.50zM225.87 981.83h1.50v1.50h-1.50zM229.53 981.83h1.50v1.50h-1.50zM233.19 981.83h1.50v1.50h-1.50zM236.85 981.83h1.50v1.50h-1.50zM240.51 981.83h1.50v1.50h-1.50zM209.40 983.66h1.50v1.50h-1.50zM213.06 983.66h1.50v1.50h-1.50zM216.72 983.66h1.50v1.50h-1.50zM220.38 983.66h1.50v1.50h-1.50zM224.04 983.66h1.50v1.50h-1.50zM227.70 983.66h1.50v1.50h-1.50zM231.36 983.66h1.50v1.50h-1.50zM235.02 983.66h1.50v1.50h-1.50zM238.68 983.66h1.50v1.50h-1.50zM211.23 985.49h1.50v1.50h-1.50zM214.89 985.49h1.50v1.50h-1.50zM218.55 985.49h1.50v1.50h-1.50zM222.21 985.49h1.50v1.50h-1.50zM225.87 985.49h1.50v1.50h-1.50zM229.53 985.49h1.50v1.50h-1.50zM233.19 985.49h1.50v1.50h-1.50zM236.85 985.49h1.50v1.50h-1.50zM240.51 985.49h1.50v1.50h-1.50zM209.40 987.32h1.50v1.50h-1.50zM213.06 987.32h1.50v1.50h-1.50zM216.72 987.32h1.50v1.50h-1.50zM220.38 987.32h1.50v1.50h-1.50zM224.04 987.32h1.50v1.50h-1.50zM227.70 987.32h1.50v1.50h-1.50zM231.36 987.32h1.50v1.50h-1.50zM235.02 987.32h1.50v1.50h-1.50zM238.68 987.32h1.50v1.50h-1.50zM211.23 989.15h1.50v1.50h-1.50zM214.89 989.15h1.50v1.50h-1.50zM218.55 989.15h1.50v1.50h-1.50zM222.21 989.15h1.50v1.50h-1.50zM225.87 989.15h1.50v1.50h-1.50zM229.53 989.15h1.50v1.50h-1.50zM233.19 989.15h1.50v1.50h-1.50zM236.85 989.15h1.50v1.50h-1.50zM240.51 989.15h1.50v1.50h-1.50zM209.40 990.98h1.50v1.50h-1.50zM213.06 990.98h1.50v1.50h-1.50zM216.72 990.98h1.50v1.50h-1.50zM220.38 990.98h1.50v1.50h-1.50zM224.04 990.98h1.50v1.50h-1.50zM227.70 990.98h1.50v1.50h-1.50zM231.36 990.98h1.50v1.50h-1.50zM235.02 990.98h1.50v1.50h-1.50zM238.68 990.98h1.50v1.50h-1.50zM211.23 992.81h1.50v1.50h-1.50zM214.89 992.81h1.50v1.50h-1.50zM218.55 992.81h1.50v1.50h-1.50zM222.21 992.81h1.50v1.50h-1.50zM225.87 992.81h1.50v1.50h-1.50zM229.53 992.81h1.50v1.50h-1.50zM233.19 992.81h1.50v1.50h-1.50zM236.85 992.81h1.50v1.50h-1.50zM240.51 992.81h1.50v1.50h-1.50zM209.40 994.64h1.50v1.50h-1.50zM213.06 994.64h1.50v1.50h-1.50zM216.72 994.64h1.50v1.50h-1.50zM220.38 994.64h1.50v1.50h-1.50zM224.04 994.64h1.50v1.50h-1.50zM227.70 994.64h1.50v1.50h-1.50zM231.36 994.64h1.50v1.50h-1.50zM235.02 994.64h1.50v1.50h-1.50zM238.68 994.64h1.50v1.50h-1.50zM211.23 996.47h1.50v1.50h-1.50zM214.89 996.47h1.50v1.50h-1.50zM218.55 996.47h1.50v1.50h-1.50zM222.21 996.47h1.50v1.50h-1.50zM225.87 996.47h1.50v1.50h-1.50zM229.53 996.47h1.50v1.50h-1.50zM233.19 996.47h1.50v1.50h-1.50zM236.85 996.47h1.50v1.50h-1.50zM240.51 996.47h1.50v1.50h-1.50zM209.40 998.30h1.50v1.50h-1.50zM213.06 998.30h1.50v1.50h-1.50zM216.72 998.30h1.50v1.50h-1.50zM220.38 998.30h1.50v1.50h-1.50zM224.04 998.30h1.50v1.50h-1.50zM227.70 998.30h1.50v1.50h-1.50zM231.36 998.30h1.50v1.50h-1.50zM235.02 998.30h1.50v1.50h-1.50zM238.68 998.30h1.50v1.50h-1.50zM211.23 1000.13h1.50v1.50h-1.50zM214.89 1000.13h1.50v1.50h-1.50zM218.55 1000.13h1.50v1.50h-1.50zM222.21 1000.13h1.50v1.50h-1.50zM225.87 1000.13h1.50v1.50h-1.50zM229.53 1000.13h1.50v1.50h-1.50zM233.19 1000.13h1.50v1.50h-1.50zM236.85 1000.13h1.50v1.50h-1.50zM240.51 1000.13h1.50v1.50h-1.50zM209.40 1001.96h1.50v1.50h-1.50zM213.06 1001.96h1.50v1.50h-1.50zM216.72 1001.96h1.50v1.50h-1.50zM220.38 1001.96h1.50v1.50h-1.50zM224.04 1001.96h1.50v1.50h-1.50zM227.70 1001.96h1.50v1.50h-1.50zM231.36 1001.96h1.50v1.50h-1.50zM235.02 1001.96h1.50v1.50h-1.50zM238.68 1001.96h1.50v1.50h-1.50zM211.23 1003.79h1.50v1.50h-1.50zM214.89 1003.79h1.50v1.50h-1.50zM218.55 1003.79h1.50v1.50h-1.50zM222.21 1003.79h1.50v1.50h-1.50zM225.87 1003.79h1.50v1.50h-1.50zM229.53 1003.79h1.50v1.50h-1.50zM233.19 1003.79h1.50v1.50h-1.50zM236.85 1003.79h1.50v1.50h-1.50zM240.51 1003.79h1.50v1.50h-1.50zM209.40 1005.62h1.50v1.50h-1.50zM213.06 1005.62h1.50v1.50h-1.50zM216.72 1005.62h1.50v1.50h-1.50zM220.38 1005.62h1.50v1.50h-1.50zM224.04 1005.62h1.50v1.50h-1.50zM227.70 1005.62h1.50v1.50h-1.50zM231.36 1005.62h1.50v1.50h-1.50zM235.02 1005.62h1.50v1.50h-1.50zM238.68 1005.62h1.50v1.50h-1.50zM211.23 1007.45h1.50v1.50h-1.50zM214.89 1007.45h1.50v1.50h-1.50zM218.55 1007.45h1.50v1.50h-1.50zM222.21 1007.45h1.50v1.50h-1.50zM225.87 1007.45h1.50v1.50h-1.50zM229.53 1007.45h1.50v1.50h-1.50zM233.19 1007.45h1.50v1.50h-1.50zM236.85 1007.45h1.50v1.50h-1.50zM240.51 1007.45h1.50v1.50h-1.50zM209.40 1009.28h1.50v1.50h-1.50zM213.06 1009.28h1.50v1.50h-1.50zM216.72 1009.28h1.50v1.50h-1.50zM220.38 1009.28h1.50v1.50h-1.50zM224.04 1009.28h1.50v1.50h-1.50zM227.70 1009.28h1.50v1.50h-1.50zM231.36 1009.28h1.50v1.50h-1.50zM235.02 1009.28h1.50v1.50h-1.50zM238.68 1009.28h1.50v1.50h-1.50zM211.23 1011.11h1.50v1.50h-1.50zM214.89 1011.11h1.50v1.50h-1.50zM218.55 1011.11h1.50v1.50h-1.50zM222.21 1011.11h1.50v1.50h-1.50zM225.87 1011.11h1.50v1.50h-1.50zM229.53 1011.11h1.50v1.50h-1.50zM233.19 1011.11h1.50v1.50h-1.50zM236.85 1011.11h1.50v1.50h-1.50zM240.51 1011.11h1.50v1.50h-1.50zM209.40 1012.94h1.50v1.50h-1.50zM213.06 1012.94h1.50v1.50h-1.50zM216.72 1012.94h1.50v1.50h-1.50zM220.38 1012.94h1.50v1.50h-1.50zM224.04 1012.94h1.50v1.50h-1.50zM227.70 1012.94h1.50v1.50h-1.50zM231.36 1012.94h1.50v1.50h-1.50zM235.02 1012.94h1.50v1.50h-1.50zM238.68 1012.94h1.50v1.50h-1.50zM211.23 1014.77h1.50v1.50h-1.50zM214.89 1014.77h1.50v1.50h-1.50zM218.55 1014.77h1.50v1.50h-1.50zM222.21 1014.77h1.50v1.50h-1.50zM225.87 1014.77h1.50v1.50h-1.50zM229.53 1014.77h1.50v1.50h-1.50zM233.19 1014.77h1.50v1.50h-1.50zM236.85 1014.77h1.50v1.50h-1.50zM240.51 1014.77h1.50v1.50h-1.50zM209.40 1016.60h1.50v1.50h-1.50zM213.06 1016.60h1.50v1.50h-1.50zM216.72 1016.60h1.50v1.50h-1.50zM220.38 1016.60h1.50v1.50h-1.50zM224.04 1016.60h1.50v1.50h-1.50zM227.70 1016.60h1.50v1.50h-1.50zM231.36 1016.60h1.50v1.50h-1.50zM235.02 1016.60h1.50v1.50h-1.50zM238.68 1016.60h1.50v1.50h-1.50zM211.23 1018.43h1.50v1.50h-1.50zM214.89 1018.43h1.50v1.50h-1.50zM218.55 1018.43h1.50v1.50h-1.50zM222.21 1018.43h1.50v1.50h-1.50zM225.87 1018.43h1.50v1.50h-1.50zM229.53 1018.43h1.50v1.50h-1.50zM233.19 1018.43h1.50v1.50h-1.50zM236.85 1018.43h1.50v1.50h-1.50zM240.51 1018.43h1.50v1.50h-1.50zM209.40 1020.26h1.50v1.50h-1.50zM213.06 1020.26h1.50v1.50h-1.50zM216.72 1020.26h1.50v1.50h-1.50zM220.38 1020.26h1.50v1.50h-1.50zM224.04 1020.26h1.50v1.50h-1.50zM227.70 1020.26h1.50v1.50h-1.50zM231.36 1020.26h1.50v1.50h-1.50zM235.02 1020.26h1.50v1.50h-1.50zM238.68 1020.26h1.50v1.50h-1.50zM211.23 1022.09h1.50v1.50h-1.50zM214.89 1022.09h1.50v1.50h-1.50zM218.55 1022.09h1.50v1.50h-1.50zM222.21 1022.09h1.50v1.50h-1.50zM225.87 1022.09h1.50v1.50h-1.50zM229.53 1022.09h1.50v1.50h-1.50zM233.19 1022.09h1.50v1.50h-1.50zM236.85 1022.09h1.50v1.50h-1.50zM240.51 1022.09h1.50v1.50h-1.50zM209.40 1023.92h1.50v1.50h-1.50zM213.06 1023.92h1.50v1.50h-1.50zM216.72 1023.92h1.50v1.50h-1.50zM220.38 1023.92h1.50v1.50h-1.50zM224.04 1023.92h1.50v1.50h-1.50zM227.70 1023.92h1.50v1.50h-1.50zM231.36 1023.92h1.50v1.50h-1.50zM235.02 1023.92h1.50v1.50h-1.50zM238.68 1023.92h1.50v1.50h-1.50zM211.23 1025.75h1.50v1.50h-1.50zM214.89 1025.75h1.50v1.50h-1.50zM218.55 1025.75h1.50v1.50h-1.50zM222.21 1025.75h1.50v1.50h-1.50zM225.87 1025.75h1.50v1.50h-1.50zM229.53 1025.75h1.50v1.50h-1.50zM233.19 1025.75h1.50v1.50h-1.50zM236.85 1025.75h1.50v1.50h-1.50zM240.51 1025.75h1.50v1.50h-1.50zM209.40 1027.58h1.50v1.50h-1.50zM213.06 1027.58h1.50v1.50h-1.50zM216.72 1027.58h1.50v1.50h-1.50zM220.38 1027.58h1.50v1.50h-1.50zM224.04 1027.58h1.50v1.50h-1.50zM227.70 1027.58h1.50v1.50h-1.50zM231.36 1027.58h1.50v1.50h-1.50zM235.02 1027.58h1.50v1.50h-1.50zM238.68 1027.58h1.50v1.50h-1.50zM211.23 1029.41h1.50v1.50h-1.50zM214.89 1029.41h1.50v1.50h-1.50zM218.55 1029.41h1.50v1.50h-1.50zM222.21 1029.41h1.50v1.50h-1.50zM225.87 1029.41h1.50v1.50h-1.50zM229.53 1029.41h1.50v1.50h-1.50zM233.19 1029.41h1.50v1.50h-1.50zM236.85 1029.41h1.50v1.50h-1.50zM240.51 1029.41h1.50v1.50h-1.50zM209.40 1031.24h1.50v1.50h-1.50zM213.06 1031.24h1.50v1.50h-1.50zM216.72 1031.24h1.50v1.50h-1.50zM220.38 1031.24h1.50v1.50h-1.50zM224.04 1031.24h1.50v1.50h-1.50zM227.70 1031.24h1.50v1.50h-1.50zM231.36 1031.24h1.50v1.50h-1.50zM235.02 1031.24h1.50v1.50h-1.50zM238.68 1031.24h1.50v1.50h-1.50zM211.23 1033.07h1.50v1.50h-1.50zM214.89 1033.07h1.50v1.50h-1.50zM218.55 1033.07h1.50v1.50h-1.50zM222.21 1033.07h1.50v1.50h-1.50zM225.87 1033.07h1.50v1.50h-1.50zM229.53 1033.07h1.50v1.50h-1.50zM233.19 1033.07h1.50v1.50h-1.50zM236.85 1033.07h1.50v1.50h-1.50zM240.51 1033.07h1.50v1.50h-1.50zM209.40 1034.90h1.50v1.50h-1.50zM213.06 1034.90h1.50v1.50h-1.50zM216.72 1034.90h1.50v1.50h-1.50zM220.38 1034.90h1.50v1.50h-1.50zM224.04 1034.90h1.50v1.50h-1.50zM227.70 1034.90h1.50v1.50h-1.50zM231.36 1034.90h1.50v1.50h-1.50zM235.02 1034.90h1.50v1.50h-1.50zM238.68 1034.90h1.50v1.50h-1.50zM211.23 1036.73h1.50v1.50h-1.50zM214.89 1036.73h1.50v1.50h-1.50zM218.55 1036.73h1.50v1.50h-1.50zM222.21 1036.73h1.50v1.50h-1.50zM225.87 1036.73h1.50v1.50h-1.50zM229.53 1036.73h1.50v1.50h-1.50zM233.19 1036.73h1.50v1.50h-1.50zM236.85 1036.73h1.50v1.50h-1.50zM240.51 1036.73h1.50v1.50h-1.50zM209.40 1038.56h1.50v1.50h-1.50zM213.06 1038.56h1.50v1.50h-1.50zM216.72 1038.56h1.50v1.50h-1.50zM220.38 1038.56h1.50v1.50h-1.50zM224.04 1038.56h1.50v1.50h-1.50zM227.70 1038.56h1.50v1.50h-1.50zM231.36 1038.56h1.50v1.50h-1.50zM235.02 1038.56h1.50v1.50h-1.50zM238.68 1038.56h1.50v1.50h-1.50zM211.23 1040.39h1.50v1.50h-1.50zM214.89 1040.39h1.50v1.50h-1.50zM218.55 1040.39h1.50v1.50h-1.50zM222.21 1040.39h1.50v1.50h-1.50zM225.87 1040.39h1.50v1.50h-1.50zM229.53 1040.39h1.50v1.50h-1.50zM233.19 1040.39h1.50v1.50h-1.50zM236.85 1040.39h1.50v1.50h-1.50zM240.51 1040.39h1.50v1.50h-1.50zM209.40 1042.22h1.50v1.50h-1.50zM213.06 1042.22h1.50v1.50h-1.50zM216.72 1042.22h1.50v1.50h-1.50zM220.38 1042.22h1.50v1.50h-1.50zM224.04 1042.22h1.50v1.50h-1.50zM227.70 1042.22h1.50v1.50h-1.50zM231.36 1042.22h1.50v1.50h-1.50zM235.02 1042.22h1.50v1.50h-1.50zM238.68 1042.22h1.50v1.50h-1.50zM211.23 1044.05h1.50v1.50h-1.50zM214.89 1044.05h1.50v1.50h-1.50zM218.55 1044.05h1.50v1.50h-1.50zM222.21 1044.05h1.50v1.50h-1.50zM225.87 1044.05h1.50v1.50h-1.50zM229.53 1044.05h1.50v1.50h-1.50zM233.19 1044.05h1.50v1.50h-1.50zM236.85 1044.05h1.50v1.50h-1.50zM240.51 1044.05h1.50v1.50h-1.50zM209.40 1045.88h1.50v1.50h-1.50zM213.06 1045.88h1.50v1.50h-1.50zM216.72 1045.88h1.50v1.50h-1.50zM220.38 1045.88h1.50v1.50h-1.50zM224.04 1045.88h1.50v1.50h-1.50zM227.70 1045.88h1.50v1.50h-1.50zM231.36 1045.88h1.50v1.50h-1.50zM235.02 1045.88h1.50v1.50h-1.50zM238.68 1045.88h1.50v1.50h-1.50zM211.23 1047.71h1.50v1.50h-1.50zM214.89 1047.71h1.50v1.50h-1.50zM218.55 1047.71h1.50v1.50h-1.50zM222.21 1047.71h1.50v1.50h-1.50zM225.87 1047.71h1.50v1.50h-1.50zM229.53 1047.71h1.50v1.50h-1.50zM233.19 1047.71h1.50v1.50h-1.50zM236.85 1047.71h1.50v1.50h-1.50zM240.51 1047.71h1.50v1.50h-1.50zM209.40 1049.54h1.50v1.50h-1.50zM213.06 1049.54h1.50v1.50h-1.50zM216.72 1049.54h1.50v1.50h-1.50zM220.38 1049.54h1.50v1.50h-1.50zM224.04 1049.54h1.50v1.50h-1.50zM227.70 1049.54h1.50v1.50h-1.50zM231.36 1049.54h1.50v1.50h-1.50zM235.02 1049.54h1.50v1.50h-1.50zM238.68 1049.54h1.50v1.50h-1.50zM211.23 1051.37h1.50v1.50h-1.50zM214.89 1051.37h1.50v1.50h-1.50zM218.55 1051.37h1.50v1.50h-1.50zM222.21 1051.37h1.50v1.50h-1.50zM225.87 1051.37h1.50v1.50h-1.50zM229.53 1051.37h1.50v1.50h-1.50zM233.19 1051.37h1.50v1.50h-1.50zM236.85 1051.37h1.50v1.50h-1.50zM240.51 1051.37h1.50v1.50h-1.50zM209.40 1053.20h1.50v1.50h-1.50zM213.06 1053.20h1.50v1.50h-1.50zM216.72 1053.20h1.50v1.50h-1.50zM220.38 1053.20h1.50v1.50h-1.50zM224.04 1053.20h1.50v1.50h-1.50zM227.70 1053.20h1.50v1.50h-1.50zM231.36 1053.20h1.50v1.50h-1.50zM235.02 1053.20h1.50v1.50h-1.50zM238.68 1053.20h1.50v1.50h-1.50zM211.23 1055.03h1.50v1.50h-1.50zM214.89 1055.03h1.50v1.50h-1.50zM218.55 1055.03h1.50v1.50h-1.50zM222.21 1055.03h1.50v1.50h-1.50zM225.87 1055.03h1.50v1.50h-1.50zM229.53 1055.03h1.50v1.50h-1.50zM233.19 1055.03h1.50v1.50h-1.50zM236.85 1055.03h1.50v1.50h-1.50zM240.51 1055.03h1.50v1.50h-1.50zM209.40 1056.86h1.50v1.50h-1.50zM213.06 1056.86h1.50v1.50h-1.50zM216.72 1056.86h1.50v1.50h-1.50zM220.38 1056.86h1.50v1.50h-1.50zM224.04 1056.86h1.50v1.50h-1.50zM227.70 1056.86h1.50v1.50h-1.50zM231.36 1056.86h1.50v1.50h-1.50zM235.02 1056.86h1.50v1.50h-1.50zM238.68 1056.86h1.50v1.50h-1.50zM211.23 1058.69h1.50v1.50h-1.50zM214.89 1058.69h1.50v1.50h-1.50zM218.55 1058.69h1.50v1.50h-1.50zM222.21 1058.69h1.50v1.50h-1.50zM225.87 1058.69h1.50v1.50h-1.50zM229.53 1058.69h1.50v1.50h-1.50zM233.19 1058.69h1.50v1.50h-1.50zM236.85 1058.69h1.50v1.50h-1.50zM240.51 1058.69h1.50v1.50h-1.50zM209.40 1060.52h1.50v1.50h-1.50zM213.06 1060.52h1.50v1.50h-1.50zM216.72 1060.52h1.50v1.50h-1.50zM220.38 1060.52h1.50v1.50h-1.50zM224.04 1060.52h1.50v1.50h-1.50zM227.70 1060.52h1.50v1.50h-1.50zM231.36 1060.52h1.50v1.50h-1.50zM235.02 1060.52h1.50v1.50h-1.50zM238.68 1060.52h1.50v1.50h-1.50zM211.23 1062.35h1.50v1.50h-1.50zM214.89 1062.35h1.50v1.50h-1.50zM218.55 1062.35h1.50v1.50h-1.50zM222.21 1062.35h1.50v1.50h-1.50zM225.87 1062.35h1.50v1.50h-1.50zM229.53 1062.35h1.50v1.50h-1.50zM233.19 1062.35h1.50v1.50h-1.50zM236.85 1062.35h1.50v1.50h-1.50zM240.51 1062.35h1.50v1.50h-1.50zM209.40 1064.18h1.50v1.50h-1.50zM213.06 1064.18h1.50v1.50h-1.50zM216.72 1064.18h1.50v1.50h-1.50zM220.38 1064.18h1.50v1.50h-1.50zM224.04 1064.18h1.50v1.50h-1.50zM227.70 1064.18h1.50v1.50h-1.50zM231.36 1064.18h1.50v1.50h-1.50zM235.02 1064.18h1.50v1.50h-1.50zM238.68 1064.18h1.50v1.50h-1.50zM211.23 1066.01h1.50v1.50h-1.50zM214.89 1066.01h1.50v1.50h-1.50zM218.55 1066.01h1.50v1.50h-1.50zM222.21 1066.01h1.50v1.50h-1.50zM225.87 1066.01h1.50v1.50h-1.50zM229.53 1066.01h1.50v1.50h-1.50zM233.19 1066.01h1.50v1.50h-1.50zM236.85 1066.01h1.50v1.50h-1.50zM240.51 1066.01h1.50v1.50h-1.50zM209.40 1067.84h1.50v1.50h-1.50zM213.06 1067.84h1.50v1.50h-1.50zM216.72 1067.84h1.50v1.50h-1.50zM220.38 1067.84h1.50v1.50h-1.50zM224.04 1067.84h1.50v1.50h-1.50zM227.70 1067.84h1.50v1.50h-1.50zM231.36 1067.84h1.50v1.50h-1.50zM235.02 1067.84h1.50v1.50h-1.50zM238.68 1067.84h1.50v1.50h-1.50zM211.23 1069.67h1.50v1.50h-1.50zM214.89 1069.67h1.50v1.50h-1.50zM218.55 1069.67h1.50v1.50h-1.50zM222.21 1069.67h1.50v1.50h-1.50zM225.87 1069.67h1.50v1.50h-1.50zM229.53 1069.67h1.50v1.50h-1.50zM233.19 1069.67h1.50v1.50h-1.50zM236.85 1069.67h1.50v1.50h-1.50zM240.51 1069.67h1.50v1.50h-1.50zM209.40 1071.50h1.50v1.50h-1.50zM213.06 1071.50h1.50v1.50h-1.50zM216.72 1071.50h1.50v1.50h-1.50zM220.38 1071.50h1.50v1.50h-1.50zM224.04 1071.50h1.50v1.50h-1.50zM227.70 1071.50h1.50v1.50h-1.50zM231.36 1071.50h1.50v1.50h-1.50zM235.02 1071.50h1.50v1.50h-1.50zM238.68 1071.50h1.50v1.50h-1.50zM211.23 1073.33h1.50v1.50h-1.50zM214.89 1073.33h1.50v1.50h-1.50zM218.55 1073.33h1.50v1.50h-1.50zM222.21 1073.33h1.50v1.50h-1.50zM225.87 1073.33h1.50v1.50h-1.50zM229.53 1073.33h1.50v1.50h-1.50zM233.19 1073.33h1.50v1.50h-1.50zM236.85 1073.33h1.50v1.50h-1.50zM240.51 1073.33h1.50v1.50h-1.50zM209.40 1075.16h1.50v1.50h-1.50zM213.06 1075.16h1.50v1.50h-1.50zM216.72 1075.16h1.50v1.50h-1.50zM220.38 1075.16h1.50v1.50h-1.50zM224.04 1075.16h1.50v1.50h-1.50zM227.70 1075.16h1.50v1.50h-1.50zM231.36 1075.16h1.50v1.50h-1.50zM235.02 1075.16h1.50v1.50h-1.50zM238.68 1075.16h1.50v1.50h-1.50zM211.23 1076.99h1.50v1.50h-1.50zM214.89 1076.99h1.50v1.50h-1.50zM218.55 1076.99h1.50v1.50h-1.50zM222.21 1076.99h1.50v1.50h-1.50zM225.87 1076.99h1.50v1.50h-1.50zM229.53 1076.99h1.50v1.50h-1.50zM233.19 1076.99h1.50v1.50h-1.50zM236.85 1076.99h1.50v1.50h-1.50zM240.51 1076.99h1.50v1.50h-1.50zM209.40 1078.82h1.50v1.50h-1.50zM213.06 1078.82h1.50v1.50h-1.50zM216.72 1078.82h1.50v1.50h-1.50zM220.38 1078.82h1.50v1.50h-1.50zM224.04 1078.82h1.50v1.50h-1.50zM227.70 1078.82h1.50v1.50h-1.50zM231.36 1078.82h1.50v1.50h-1.50zM235.02 1078.82h1.50v1.50h-1.50zM238.68 1078.82h1.50v1.50h-1.50zM211.23 1080.65h1.50v1.50h-1.50zM214.89 1080.65h1.50v1.50h-1.50zM218.55 1080.65h1.50v1.50h-1.50zM222.21 1080.65h1.50v1.50h-1.50zM225.87 1080.65h1.50v1.50h-1.50zM229.53 1080.65h1.50v1.50h-1.50zM233.19 1080.65h1.50v1.50h-1.50zM236.85 1080.65h1.50v1.50h-1.50zM240.51 1080.65h1.50v1.50h-1.50zM209.40 1082.48h1.50v1.50h-1.50zM213.06 1082.48h1.50v1.50h-1.50zM216.72 1082.48h1.50v1.50h-1.50zM220.38 1082.48h1.50v1.50h-1.50zM224.04 1082.48h1.50v1.50h-1.50zM227.70 1082.48h1.50v1.50h-1.50zM231.36 1082.48h1.50v1.50h-1.50zM235.02 1082.48h1.50v1.50h-1.50zM238.68 1082.48h1.50v1.50h-1.50zM211.23 1084.31h1.50v1.50h-1.50zM214.89 1084.31h1.50v1.50h-1.50zM218.55 1084.31h1.50v1.50h-1.50zM222.21 1084.31h1.50v1.50h-1.50zM225.87 1084.31h1.50v1.50h-1.50zM229.53 1084.31h1.50v1.50h-1.50zM233.19 1084.31h1.50v1.50h-1.50zM236.85 1084.31h1.50v1.50h-1.50zM240.51 1084.31h1.50v1.50h-1.50zM209.40 1086.14h1.50v1.50h-1.50zM213.06 1086.14h1.50v1.50h-1.50zM216.72 1086.14h1.50v1.50h-1.50zM220.38 1086.14h1.50v1.50h-1.50zM224.04 1086.14h1.50v1.50h-1.50zM227.70 1086.14h1.50v1.50h-1.50zM231.36 1086.14h1.50v1.50h-1.50zM235.02 1086.14h1.50v1.50h-1.50zM238.68 1086.14h1.50v1.50h-1.50zM211.23 1087.97h1.50v1.50h-1.50zM214.89 1087.97h1.50v1.50h-1.50zM218.55 1087.97h1.50v1.50h-1.50zM222.21 1087.97h1.50v1.50h-1.50zM225.87 1087.97h1.50v1.50h-1.50zM229.53 1087.97h1.50v1.50h-1.50zM233.19 1087.97h1.50v1.50h-1.50zM236.85 1087.97h1.50v1.50h-1.50zM240.51 1087.97h1.50v1.50h-1.50zM209.40 1089.80h1.50v1.50h-1.50zM213.06 1089.80h1.50v1.50h-1.50zM216.72 1089.80h1.50v1.50h-1.50zM220.38 1089.80h1.50v1.50h-1.50zM224.04 1089.80h1.50v1.50h-1.50zM227.70 1089.80h1.50v1.50h-1.50zM231.36 1089.80h1.50v1.50h-1.50zM235.02 1089.80h1.50v1.50h-1.50zM238.68 1089.80h1.50v1.50h-1.50zM211.23 1091.63h1.50v1.50h-1.50zM214.89 1091.63h1.50v1.50h-1.50zM218.55 1091.63h1.50v1.50h-1.50zM222.21 1091.63h1.50v1.50h-1.50zM225.87 1091.63h1.50v1.50h-1.50zM229.53 1091.63h1.50v1.50h-1.50zM233.19 1091.63h1.50v1.50h-1.50zM236.85 1091.63h1.50v1.50h-1.50zM240.51 1091.63h1.50v1.50h-1.50zM209.40 1093.46h1.50v1.50h-1.50zM213.06 1093.46h1.50v1.50h-1.50zM216.72 1093.46h1.50v1.50h-1.50zM220.38 1093.46h1.50v1.50h-1.50zM224.04 1093.46h1.50v1.50h-1.50zM227.70 1093.46h1.50v1.50h-1.50zM231.36 1093.46h1.50v1.50h-1.50zM235.02 1093.46h1.50v1.50h-1.50zM238.68 1093.46h1.50v1.50h-1.50zM211.23 1095.29h1.50v1.50h-1.50zM214.89 1095.29h1.50v1.50h-1.50zM218.55 1095.29h1.50v1.50h-1.50zM222.21 1095.29h1.50v1.50h-1.50zM225.87 1095.29h1.50v1.50h-1.50zM229.53 1095.29h1.50v1.50h-1.50zM233.19 1095.29h1.50v1.50h-1.50zM236.85 1095.29h1.50v1.50h-1.50zM240.51 1095.29h1.50v1.50h-1.50zM209.40 1097.12h1.50v1.50h-1.50zM213.06 1097.12h1.50v1.50h-1.50zM216.72 1097.12h1.50v1.50h-1.50zM220.38 1097.12h1.50v1.50h-1.50zM224.04 1097.12h1.50v1.50h-1.50zM227.70 1097.12h1.50v1.50h-1.50zM231.36 1097.12h1.50v1.50h-1.50zM235.02 1097.12h1.50v1.50h-1.50zM238.68 1097.12h1.50v1.50h-1.50zM211.23 1098.95h1.50v1.50h-1.50zM214.89 1098.95h1.50v1.50h-1.50zM218.55 1098.95h1.50v1.50h-1.50zM222.21 1098.95h1.50v1.50h-1.50zM225.87 1098.95h1.50v1.50h-1.50zM229.53 1098.95h1.50v1.50h-1.50zM233.19 1098.95h1.50v1.50h-1.50zM236.85 1098.95h1.50v1.50h-1.50zM240.51 1098.95h1.50v1.50h-1.50zM209.40 1100.78h1.50v1.50h-1.50zM213.06 1100.78h1.50v1.50h-1.50zM216.72 1100.78h1.50v1.50h-1.50zM220.38 1100.78h1.50v1.50h-1.50zM224.04 1100.78h1.50v1.50h-1.50zM227.70 1100.78h1.50v1.50h-1.50zM231.36 1100.78h1.50v1.50h-1.50zM235.02 1100.78h1.50v1.50h-1.50zM238.68 1100.78h1.50v1.50h-1.50zM211.23 1102.61h1.50v1.50h-1.50zM214.89 1102.61h1.50v1.50h-1.50zM218.55 1102.61h1.50v1.50h-1.50zM222.21 1102.61h1.50v1.50h-1.50zM225.87 1102.61h1.50v1.50h-1.50zM229.53 1102.61h1.50v1.50h-1.50zM233.19 1102.61h1.50v1.50h-1.50zM236.85 1102.61h1.50v1.50h-1.50zM240.51 1102.61h1.50v1.50h-1.50zM209.40 1104.44h1.50v1.06h-1.50zM213.06 1104.44h1.50v1.06h-1.50zM216.72 1104.44h1.50v1.06h-1.50zM220.38 1104.44h1.50v1.06h-1.50zM224.04 1104.44h1.50v1.06h-1.50zM227.70 1104.44h1.50v1.06h-1.50zM231.36 1104.44h1.50v1.06h-1.50zM235.02 1104.44h1.50v1.06h-1.50zM238.68 1104.44h1.50v1.06h-1.50z"/>
<line x1="116.00" y1="963.00" x2="116.00" y2="957.00" stroke="#1e1e1e" stroke-width="1.4" />
<line x1="108.00" y1="957.00" x2="124.00" y2="957.00" stroke="#1e1e1e" stroke-width="1.4" />
<line x1="170.70" y1="1045.20" x2="170.70" y2="1034.80" stroke="#1e1e1e" stroke-width="1.4" />
<line x1="162.70" y1="1034.80" x2="178.70" y2="1034.80" stroke="#1e1e1e" stroke-width="1.4" />
<line x1="225.30" y1="961.50" x2="225.30" y2="956.00" stroke="#1e1e1e" stroke-width="1.4" />
<line x1="217.30" y1="956.00" x2="233.30" y2="956.00" stroke="#1e1e1e" stroke-width="1.4" />
<line x1="78.95" y1="1105.50" x2="262.50" y2="1105.50" stroke="#080808" stroke-width="1.5" />
<line x1="116.00" y1="1105.50" x2="116.00" y2="1110.00" stroke="#080808" stroke-width="1.5" />
<line x1="170.70" y1="1105.50" x2="170.70" y2="1110.00" stroke="#080808" stroke-width="1.5" />
<line x1="225.30" y1="1105.50" x2="225.30" y2="1110.00" stroke="#080808" stroke-width="1.5" />
<polyline points="116.00,949.50 116.00,946.30 170.70,946.30 170.70,949.50" fill="none" stroke="#1e1e1e" stroke-width="1.3"/>
<path d="M140.75,938.00L140.75,942.60M138.76,939.15L142.74,941.45M142.74,939.15L138.76,941.45M145.95,938.00L145.95,942.60M143.96,939.15L147.94,941.45M147.94,939.15L143.96,941.45" stroke="#2a2a2a" stroke-width="0.95" fill="none"/>
<polyline points="170.70,927.90 170.70,924.70 225.30,924.70 225.30,927.90" fill="none" stroke="#1e1e1e" stroke-width="1.3"/>
<path d="M195.40,916.40L195.40,921.00M193.41,917.55L197.39,919.85M197.39,917.55L193.41,919.85M200.60,916.40L200.60,921.00M198.61,917.55L202.59,919.85M202.59,917.55L198.61,919.85" stroke="#2a2a2a" stroke-width="0.95" fill="none"/>
<line x1="349.70" y1="942.10" x2="349.70" y2="1106.15" stroke="#080808" stroke-width="1.5" />
<line x1="344.50" y1="1105.40" x2="349.70" y2="1105.40" stroke="#080808" stroke-width="1.5" />
<line x1="344.50" y1="1052.40" x2="349.70" y2="1052.40" stroke="#080808" stroke-width="1.5" />
<line x1="344.50" y1="999.40" x2="349.70" y2="999.40" stroke="#080808" stroke-width="1.5" />
<line x1="344.50" y1="946.40" x2="349.70" y2="946.40" stroke="#080808" stroke-width="1.5" />
<rect x="366.60" y="982.00" width="31.20" height="123.40" fill="#f2f4f8"/>
<g fill="#3e5a83"><rect x="367.15" y="982.00" width="2.05" height="123.40"/><rect x="370.25" y="982.00" width="2.05" height="123.40"/><rect x="373.35" y="982.00" width="2.05" height="123.40"/><rect x="376.45" y="982.00" width="2.05" height="123.40"/><rect x="379.55" y="982.00" width="2.05" height="123.40"/><rect x="382.65" y="982.00" width="2.05" height="123.40"/><rect x="385.75" y="982.00" width="2.05" height="123.40"/><rect x="388.85" y="982.00" width="2.05" height="123.40"/><rect x="391.95" y="982.00" width="2.05" height="123.40"/><rect x="395.05" y="982.00" width="2.05" height="123.40"/></g>
<rect x="414.30" y="1065.00" width="32.90" height="40.40" fill="#e2e7ee"/>
<g fill="#3e5a83"><rect x="414.30" y="1065.25" width="32.90" height="1.85"/><rect x="414.30" y="1068.45" width="32.90" height="1.85"/><rect x="414.30" y="1071.65" width="32.90" height="1.85"/><rect x="414.30" y="1074.85" width="32.90" height="1.85"/><rect x="414.30" y="1078.05" width="32.90" height="1.85"/><rect x="414.30" y="1081.25" width="32.90" height="1.85"/><rect x="414.30" y="1084.45" width="32.90" height="1.85"/><rect x="414.30" y="1087.65" width="32.90" height="1.85"/><rect x="414.30" y="1090.85" width="32.90" height="1.85"/><rect x="414.30" y="1094.05" width="32.90" height="1.85"/><rect x="414.30" y="1097.25" width="32.90" height="1.85"/><rect x="414.30" y="1100.45" width="32.90" height="1.85"/><rect x="414.30" y="1103.65" width="32.90" height="1.75"/></g>
<rect x="464.20" y="1020.00" width="32.50" height="85.40" fill="#ffffff"/>
<path fill="#34507f" d="M464.40 1020.20h1.50v1.50h-1.50zM468.06 1020.20h1.50v1.50h-1.50zM471.72 1020.20h1.50v1.50h-1.50zM475.38 1020.20h1.50v1.50h-1.50zM479.04 1020.20h1.50v1.50h-1.50zM482.70 1020.20h1.50v1.50h-1.50zM486.36 1020.20h1.50v1.50h-1.50zM490.02 1020.20h1.50v1.50h-1.50zM493.68 1020.20h1.50v1.50h-1.50zM466.23 1022.03h1.50v1.50h-1.50zM469.89 1022.03h1.50v1.50h-1.50zM473.55 1022.03h1.50v1.50h-1.50zM477.21 1022.03h1.50v1.50h-1.50zM480.87 1022.03h1.50v1.50h-1.50zM484.53 1022.03h1.50v1.50h-1.50zM488.19 1022.03h1.50v1.50h-1.50zM491.85 1022.03h1.50v1.50h-1.50zM495.51 1022.03h1.19v1.50h-1.19zM464.40 1023.86h1.50v1.50h-1.50zM468.06 1023.86h1.50v1.50h-1.50zM471.72 1023.86h1.50v1.50h-1.50zM475.38 1023.86h1.50v1.50h-1.50zM479.04 1023.86h1.50v1.50h-1.50zM482.70 1023.86h1.50v1.50h-1.50zM486.36 1023.86h1.50v1.50h-1.50zM490.02 1023.86h1.50v1.50h-1.50zM493.68 1023.86h1.50v1.50h-1.50zM466.23 1025.69h1.50v1.50h-1.50zM469.89 1025.69h1.50v1.50h-1.50zM473.55 1025.69h1.50v1.50h-1.50zM477.21 1025.69h1.50v1.50h-1.50zM480.87 1025.69h1.50v1.50h-1.50zM484.53 1025.69h1.50v1.50h-1.50zM488.19 1025.69h1.50v1.50h-1.50zM491.85 1025.69h1.50v1.50h-1.50zM495.51 1025.69h1.19v1.50h-1.19zM464.40 1027.52h1.50v1.50h-1.50zM468.06 1027.52h1.50v1.50h-1.50zM471.72 1027.52h1.50v1.50h-1.50zM475.38 1027.52h1.50v1.50h-1.50zM479.04 1027.52h1.50v1.50h-1.50zM482.70 1027.52h1.50v1.50h-1.50zM486.36 1027.52h1.50v1.50h-1.50zM490.02 1027.52h1.50v1.50h-1.50zM493.68 1027.52h1.50v1.50h-1.50zM466.23 1029.35h1.50v1.50h-1.50zM469.89 1029.35h1.50v1.50h-1.50zM473.55 1029.35h1.50v1.50h-1.50zM477.21 1029.35h1.50v1.50h-1.50zM480.87 1029.35h1.50v1.50h-1.50zM484.53 1029.35h1.50v1.50h-1.50zM488.19 1029.35h1.50v1.50h-1.50zM491.85 1029.35h1.50v1.50h-1.50zM495.51 1029.35h1.19v1.50h-1.19zM464.40 1031.18h1.50v1.50h-1.50zM468.06 1031.18h1.50v1.50h-1.50zM471.72 1031.18h1.50v1.50h-1.50zM475.38 1031.18h1.50v1.50h-1.50zM479.04 1031.18h1.50v1.50h-1.50zM482.70 1031.18h1.50v1.50h-1.50zM486.36 1031.18h1.50v1.50h-1.50zM490.02 1031.18h1.50v1.50h-1.50zM493.68 1031.18h1.50v1.50h-1.50zM466.23 1033.01h1.50v1.50h-1.50zM469.89 1033.01h1.50v1.50h-1.50zM473.55 1033.01h1.50v1.50h-1.50zM477.21 1033.01h1.50v1.50h-1.50zM480.87 1033.01h1.50v1.50h-1.50zM484.53 1033.01h1.50v1.50h-1.50zM488.19 1033.01h1.50v1.50h-1.50zM491.85 1033.01h1.50v1.50h-1.50zM495.51 1033.01h1.19v1.50h-1.19zM464.40 1034.84h1.50v1.50h-1.50zM468.06 1034.84h1.50v1.50h-1.50zM471.72 1034.84h1.50v1.50h-1.50zM475.38 1034.84h1.50v1.50h-1.50zM479.04 1034.84h1.50v1.50h-1.50zM482.70 1034.84h1.50v1.50h-1.50zM486.36 1034.84h1.50v1.50h-1.50zM490.02 1034.84h1.50v1.50h-1.50zM493.68 1034.84h1.50v1.50h-1.50zM466.23 1036.67h1.50v1.50h-1.50zM469.89 1036.67h1.50v1.50h-1.50zM473.55 1036.67h1.50v1.50h-1.50zM477.21 1036.67h1.50v1.50h-1.50zM480.87 1036.67h1.50v1.50h-1.50zM484.53 1036.67h1.50v1.50h-1.50zM488.19 1036.67h1.50v1.50h-1.50zM491.85 1036.67h1.50v1.50h-1.50zM495.51 1036.67h1.19v1.50h-1.19zM464.40 1038.50h1.50v1.50h-1.50zM468.06 1038.50h1.50v1.50h-1.50zM471.72 1038.50h1.50v1.50h-1.50zM475.38 1038.50h1.50v1.50h-1.50zM479.04 1038.50h1.50v1.50h-1.50zM482.70 1038.50h1.50v1.50h-1.50zM486.36 1038.50h1.50v1.50h-1.50zM490.02 1038.50h1.50v1.50h-1.50zM493.68 1038.50h1.50v1.50h-1.50zM466.23 1040.33h1.50v1.50h-1.50zM469.89 1040.33h1.50v1.50h-1.50zM473.55 1040.33h1.50v1.50h-1.50zM477.21 1040.33h1.50v1.50h-1.50zM480.87 1040.33h1.50v1.50h-1.50zM484.53 1040.33h1.50v1.50h-1.50zM488.19 1040.33h1.50v1.50h-1.50zM491.85 1040.33h1.50v1.50h-1.50zM495.51 1040.33h1.19v1.50h-1.19zM464.40 1042.16h1.50v1.50h-1.50zM468.06 1042.16h1.50v1.50h-1.50zM471.72 1042.16h1.50v1.50h-1.50zM475.38 1042.16h1.50v1.50h-1.50zM479.04 1042.16h1.50v1.50h-1.50zM482.70 1042.16h1.50v1.50h-1.50zM486.36 1042.16h1.50v1.50h-1.50zM490.02 1042.16h1.50v1.50h-1.50zM493.68 1042.16h1.50v1.50h-1.50zM466.23 1043.99h1.50v1.50h-1.50zM469.89 1043.99h1.50v1.50h-1.50zM473.55 1043.99h1.50v1.50h-1.50zM477.21 1043.99h1.50v1.50h-1.50zM480.87 1043.99h1.50v1.50h-1.50zM484.53 1043.99h1.50v1.50h-1.50zM488.19 1043.99h1.50v1.50h-1.50zM491.85 1043.99h1.50v1.50h-1.50zM495.51 1043.99h1.19v1.50h-1.19zM464.40 1045.82h1.50v1.50h-1.50zM468.06 1045.82h1.50v1.50h-1.50zM471.72 1045.82h1.50v1.50h-1.50zM475.38 1045.82h1.50v1.50h-1.50zM479.04 1045.82h1.50v1.50h-1.50zM482.70 1045.82h1.50v1.50h-1.50zM486.36 1045.82h1.50v1.50h-1.50zM490.02 1045.82h1.50v1.50h-1.50zM493.68 1045.82h1.50v1.50h-1.50zM466.23 1047.65h1.50v1.50h-1.50zM469.89 1047.65h1.50v1.50h-1.50zM473.55 1047.65h1.50v1.50h-1.50zM477.21 1047.65h1.50v1.50h-1.50zM480.87 1047.65h1.50v1.50h-1.50zM484.53 1047.65h1.50v1.50h-1.50zM488.19 1047.65h1.50v1.50h-1.50zM491.85 1047.65h1.50v1.50h-1.50zM495.51 1047.65h1.19v1.50h-1.19zM464.40 1049.48h1.50v1.50h-1.50zM468.06 1049.48h1.50v1.50h-1.50zM471.72 1049.48h1.50v1.50h-1.50zM475.38 1049.48h1.50v1.50h-1.50zM479.04 1049.48h1.50v1.50h-1.50zM482.70 1049.48h1.50v1.50h-1.50zM486.36 1049.48h1.50v1.50h-1.50zM490.02 1049.48h1.50v1.50h-1.50zM493.68 1049.48h1.50v1.50h-1.50zM466.23 1051.31h1.50v1.50h-1.50zM469.89 1051.31h1.50v1.50h-1.50zM473.55 1051.31h1.50v1.50h-1.50zM477.21 1051.31h1.50v1.50h-1.50zM480.87 1051.31h1.50v1.50h-1.50zM484.53 1051.31h1.50v1.50h-1.50zM488.19 1051.31h1.50v1.50h-1.50zM491.85 1051.31h1.50v1.50h-1.50zM495.51 1051.31h1.19v1.50h-1.19zM464.40 1053.14h1.50v1.50h-1.50zM468.06 1053.14h1.50v1.50h-1.50zM471.72 1053.14h1.50v1.50h-1.50zM475.38 1053.14h1.50v1.50h-1.50zM479.04 1053.14h1.50v1.50h-1.50zM482.70 1053.14h1.50v1.50h-1.50zM486.36 1053.14h1.50v1.50h-1.50zM490.02 1053.14h1.50v1.50h-1.50zM493.68 1053.14h1.50v1.50h-1.50zM466.23 1054.97h1.50v1.50h-1.50zM469.89 1054.97h1.50v1.50h-1.50zM473.55 1054.97h1.50v1.50h-1.50zM477.21 1054.97h1.50v1.50h-1.50zM480.87 1054.97h1.50v1.50h-1.50zM484.53 1054.97h1.50v1.50h-1.50zM488.19 1054.97h1.50v1.50h-1.50zM491.85 1054.97h1.50v1.50h-1.50zM495.51 1054.97h1.19v1.50h-1.19zM464.40 1056.80h1.50v1.50h-1.50zM468.06 1056.80h1.50v1.50h-1.50zM471.72 1056.80h1.50v1.50h-1.50zM475.38 1056.80h1.50v1.50h-1.50zM479.04 1056.80h1.50v1.50h-1.50zM482.70 1056.80h1.50v1.50h-1.50zM486.36 1056.80h1.50v1.50h-1.50zM490.02 1056.80h1.50v1.50h-1.50zM493.68 1056.80h1.50v1.50h-1.50zM466.23 1058.63h1.50v1.50h-1.50zM469.89 1058.63h1.50v1.50h-1.50zM473.55 1058.63h1.50v1.50h-1.50zM477.21 1058.63h1.50v1.50h-1.50zM480.87 1058.63h1.50v1.50h-1.50zM484.53 1058.63h1.50v1.50h-1.50zM488.19 1058.63h1.50v1.50h-1.50zM491.85 1058.63h1.50v1.50h-1.50zM495.51 1058.63h1.19v1.50h-1.19zM464.40 1060.46h1.50v1.50h-1.50zM468.06 1060.46h1.50v1.50h-1.50zM471.72 1060.46h1.50v1.50h-1.50zM475.38 1060.46h1.50v1.50h-1.50zM479.04 1060.46h1.50v1.50h-1.50zM482.70 1060.46h1.50v1.50h-1.50zM486.36 1060.46h1.50v1.50h-1.50zM490.02 1060.46h1.50v1.50h-1.50zM493.68 1060.46h1.50v1.50h-1.50zM466.23 1062.29h1.50v1.50h-1.50zM469.89 1062.29h1.50v1.50h-1.50zM473.55 1062.29h1.50v1.50h-1.50zM477.21 1062.29h1.50v1.50h-1.50zM480.87 1062.29h1.50v1.50h-1.50zM484.53 1062.29h1.50v1.50h-1.50zM488.19 1062.29h1.50v1.50h-1.50zM491.85 1062.29h1.50v1.50h-1.50zM495.51 1062.29h1.19v1.50h-1.19zM464.40 1064.12h1.50v1.50h-1.50zM468.06 1064.12h1.50v1.50h-1.50zM471.72 1064.12h1.50v1.50h-1.50zM475.38 1064.12h1.50v1.50h-1.50zM479.04 1064.12h1.50v1.50h-1.50zM482.70 1064.12h1.50v1.50h-1.50zM486.36 1064.12h1.50v1.50h-1.50zM490.02 1064.12h1.50v1.50h-1.50zM493.68 1064.12h1.50v1.50h-1.50zM466.23 1065.95h1.50v1.50h-1.50zM469.89 1065.95h1.50v1.50h-1.50zM473.55 1065.95h1.50v1.50h-1.50zM477.21 1065.95h1.50v1.50h-1.50zM480.87 1065.95h1.50v1.50h-1.50zM484.53 1065.95h1.50v1.50h-1.50zM488.19 1065.95h1.50v1.50h-1.50zM491.85 1065.95h1.50v1.50h-1.50zM495.51 1065.95h1.19v1.50h-1.19zM464.40 1067.78h1.50v1.50h-1.50zM468.06 1067.78h1.50v1.50h-1.50zM471.72 1067.78h1.50v1.50h-1.50zM475.38 1067.78h1.50v1.50h-1.50zM479.04 1067.78h1.50v1.50h-1.50zM482.70 1067.78h1.50v1.50h-1.50zM486.36 1067.78h1.50v1.50h-1.50zM490.02 1067.78h1.50v1.50h-1.50zM493.68 1067.78h1.50v1.50h-1.50zM466.23 1069.61h1.50v1.50h-1.50zM469.89 1069.61h1.50v1.50h-1.50zM473.55 1069.61h1.50v1.50h-1.50zM477.21 1069.61h1.50v1.50h-1.50zM480.87 1069.61h1.50v1.50h-1.50zM484.53 1069.61h1.50v1.50h-1.50zM488.19 1069.61h1.50v1.50h-1.50zM491.85 1069.61h1.50v1.50h-1.50zM495.51 1069.61h1.19v1.50h-1.19zM464.40 1071.44h1.50v1.50h-1.50zM468.06 1071.44h1.50v1.50h-1.50zM471.72 1071.44h1.50v1.50h-1.50zM475.38 1071.44h1.50v1.50h-1.50zM479.04 1071.44h1.50v1.50h-1.50zM482.70 1071.44h1.50v1.50h-1.50zM486.36 1071.44h1.50v1.50h-1.50zM490.02 1071.44h1.50v1.50h-1.50zM493.68 1071.44h1.50v1.50h-1.50zM466.23 1073.27h1.50v1.50h-1.50zM469.89 1073.27h1.50v1.50h-1.50zM473.55 1073.27h1.50v1.50h-1.50zM477.21 1073.27h1.50v1.50h-1.50zM480.87 1073.27h1.50v1.50h-1.50zM484.53 1073.27h1.50v1.50h-1.50zM488.19 1073.27h1.50v1.50h-1.50zM491.85 1073.27h1.50v1.50h-1.50zM495.51 1073.27h1.19v1.50h-1.19zM464.40 1075.10h1.50v1.50h-1.50zM468.06 1075.10h1.50v1.50h-1.50zM471.72 1075.10h1.50v1.50h-1.50zM475.38 1075.10h1.50v1.50h-1.50zM479.04 1075.10h1.50v1.50h-1.50zM482.70 1075.10h1.50v1.50h-1.50zM486.36 1075.10h1.50v1.50h-1.50zM490.02 1075.10h1.50v1.50h-1.50zM493.68 1075.10h1.50v1.50h-1.50zM466.23 1076.93h1.50v1.50h-1.50zM469.89 1076.93h1.50v1.50h-1.50zM473.55 1076.93h1.50v1.50h-1.50zM477.21 1076.93h1.50v1.50h-1.50zM480.87 1076.93h1.50v1.50h-1.50zM484.53 1076.93h1.50v1.50h-1.50zM488.19 1076.93h1.50v1.50h-1.50zM491.85 1076.93h1.50v1.50h-1.50zM495.51 1076.93h1.19v1.50h-1.19zM464.40 1078.76h1.50v1.50h-1.50zM468.06 1078.76h1.50v1.50h-1.50zM471.72 1078.76h1.50v1.50h-1.50zM475.38 1078.76h1.50v1.50h-1.50zM479.04 1078.76h1.50v1.50h-1.50zM482.70 1078.76h1.50v1.50h-1.50zM486.36 1078.76h1.50v1.50h-1.50zM490.02 1078.76h1.50v1.50h-1.50zM493.68 1078.76h1.50v1.50h-1.50zM466.23 1080.59h1.50v1.50h-1.50zM469.89 1080.59h1.50v1.50h-1.50zM473.55 1080.59h1.50v1.50h-1.50zM477.21 1080.59h1.50v1.50h-1.50zM480.87 1080.59h1.50v1.50h-1.50zM484.53 1080.59h1.50v1.50h-1.50zM488.19 1080.59h1.50v1.50h-1.50zM491.85 1080.59h1.50v1.50h-1.50zM495.51 1080.59h1.19v1.50h-1.19zM464.40 1082.42h1.50v1.50h-1.50zM468.06 1082.42h1.50v1.50h-1.50zM471.72 1082.42h1.50v1.50h-1.50zM475.38 1082.42h1.50v1.50h-1.50zM479.04 1082.42h1.50v1.50h-1.50zM482.70 1082.42h1.50v1.50h-1.50zM486.36 1082.42h1.50v1.50h-1.50zM490.02 1082.42h1.50v1.50h-1.50zM493.68 1082.42h1.50v1.50h-1.50zM466.23 1084.25h1.50v1.50h-1.50zM469.89 1084.25h1.50v1.50h-1.50zM473.55 1084.25h1.50v1.50h-1.50zM477.21 1084.25h1.50v1.50h-1.50zM480.87 1084.25h1.50v1.50h-1.50zM484.53 1084.25h1.50v1.50h-1.50zM488.19 1084.25h1.50v1.50h-1.50zM491.85 1084.25h1.50v1.50h-1.50zM495.51 1084.25h1.19v1.50h-1.19zM464.40 1086.08h1.50v1.50h-1.50zM468.06 1086.08h1.50v1.50h-1.50zM471.72 1086.08h1.50v1.50h-1.50zM475.38 1086.08h1.50v1.50h-1.50zM479.04 1086.08h1.50v1.50h-1.50zM482.70 1086.08h1.50v1.50h-1.50zM486.36 1086.08h1.50v1.50h-1.50zM490.02 1086.08h1.50v1.50h-1.50zM493.68 1086.08h1.50v1.50h-1.50zM466.23 1087.91h1.50v1.50h-1.50zM469.89 1087.91h1.50v1.50h-1.50zM473.55 1087.91h1.50v1.50h-1.50zM477.21 1087.91h1.50v1.50h-1.50zM480.87 1087.91h1.50v1.50h-1.50zM484.53 1087.91h1.50v1.50h-1.50zM488.19 1087.91h1.50v1.50h-1.50zM491.85 1087.91h1.50v1.50h-1.50zM495.51 1087.91h1.19v1.50h-1.19zM464.40 1089.74h1.50v1.50h-1.50zM468.06 1089.74h1.50v1.50h-1.50zM471.72 1089.74h1.50v1.50h-1.50zM475.38 1089.74h1.50v1.50h-1.50zM479.04 1089.74h1.50v1.50h-1.50zM482.70 1089.74h1.50v1.50h-1.50zM486.36 1089.74h1.50v1.50h-1.50zM490.02 1089.74h1.50v1.50h-1.50zM493.68 1089.74h1.50v1.50h-1.50zM466.23 1091.57h1.50v1.50h-1.50zM469.89 1091.57h1.50v1.50h-1.50zM473.55 1091.57h1.50v1.50h-1.50zM477.21 1091.57h1.50v1.50h-1.50zM480.87 1091.57h1.50v1.50h-1.50zM484.53 1091.57h1.50v1.50h-1.50zM488.19 1091.57h1.50v1.50h-1.50zM491.85 1091.57h1.50v1.50h-1.50zM495.51 1091.57h1.19v1.50h-1.19zM464.40 1093.40h1.50v1.50h-1.50zM468.06 1093.40h1.50v1.50h-1.50zM471.72 1093.40h1.50v1.50h-1.50zM475.38 1093.40h1.50v1.50h-1.50zM479.04 1093.40h1.50v1.50h-1.50zM482.70 1093.40h1.50v1.50h-1.50zM486.36 1093.40h1.50v1.50h-1.50zM490.02 1093.40h1.50v1.50h-1.50zM493.68 1093.40h1.50v1.50h-1.50zM466.23 1095.23h1.50v1.50h-1.50zM469.89 1095.23h1.50v1.50h-1.50zM473.55 1095.23h1.50v1.50h-1.50zM477.21 1095.23h1.50v1.50h-1.50zM480.87 1095.23h1.50v1.50h-1.50zM484.53 1095.23h1.50v1.50h-1.50zM488.19 1095.23h1.50v1.50h-1.50zM491.85 1095.23h1.50v1.50h-1.50zM495.51 1095.23h1.19v1.50h-1.19zM464.40 1097.06h1.50v1.50h-1.50zM468.06 1097.06h1.50v1.50h-1.50zM471.72 1097.06h1.50v1.50h-1.50zM475.38 1097.06h1.50v1.50h-1.50zM479.04 1097.06h1.50v1.50h-1.50zM482.70 1097.06h1.50v1.50h-1.50zM486.36 1097.06h1.50v1.50h-1.50zM490.02 1097.06h1.50v1.50h-1.50zM493.68 1097.06h1.50v1.50h-1.50zM466.23 1098.89h1.50v1.50h-1.50zM469.89 1098.89h1.50v1.50h-1.50zM473.55 1098.89h1.50v1.50h-1.50zM477.21 1098.89h1.50v1.50h-1.50zM480.87 1098.89h1.50v1.50h-1.50zM484.53 1098.89h1.50v1.50h-1.50zM488.19 1098.89h1.50v1.50h-1.50zM491.85 1098.89h1.50v1.50h-1.50zM495.51 1098.89h1.19v1.50h-1.19zM464.40 1100.72h1.50v1.50h-1.50zM468.06 1100.72h1.50v1.50h-1.50zM471.72 1100.72h1.50v1.50h-1.50zM475.38 1100.72h1.50v1.50h-1.50zM479.04 1100.72h1.50v1.50h-1.50zM482.70 1100.72h1.50v1.50h-1.50zM486.36 1100.72h1.50v1.50h-1.50zM490.02 1100.72h1.50v1.50h-1.50zM493.68 1100.72h1.50v1.50h-1.50zM466.23 1102.55h1.50v1.50h-1.50zM469.89 1102.55h1.50v1.50h-1.50zM473.55 1102.55h1.50v1.50h-1.50zM477.21 1102.55h1.50v1.50h-1.50zM480.87 1102.55h1.50v1.50h-1.50zM484.53 1102.55h1.50v1.50h-1.50zM488.19 1102.55h1.50v1.50h-1.50zM491.85 1102.55h1.50v1.50h-1.50zM495.51 1102.55h1.19v1.50h-1.19zM464.40 1104.38h1.50v1.02h-1.50zM468.06 1104.38h1.50v1.02h-1.50zM471.72 1104.38h1.50v1.02h-1.50zM475.38 1104.38h1.50v1.02h-1.50zM479.04 1104.38h1.50v1.02h-1.50zM482.70 1104.38h1.50v1.02h-1.50zM486.36 1104.38h1.50v1.02h-1.50zM490.02 1104.38h1.50v1.02h-1.50zM493.68 1104.38h1.50v1.02h-1.50z"/>
<line x1="381.90" y1="982.00" x2="381.90" y2="955.50" stroke="#1e1e1e" stroke-width="1.4" />
<line x1="373.90" y1="955.50" x2="389.90" y2="955.50" stroke="#1e1e1e" stroke-width="1.4" />
<line x1="430.80" y1="1065.00" x2="430.80" y2="1045.00" stroke="#1e1e1e" stroke-width="1.4" />
<line x1="422.80" y1="1045.00" x2="438.80" y2="1045.00" stroke="#1e1e1e" stroke-width="1.4" />
<line x1="480.70" y1="1020.00" x2="480.70" y2="989.50" stroke="#1e1e1e" stroke-width="1.4" />
<line x1="472.70" y1="989.50" x2="488.70" y2="989.50" stroke="#1e1e1e" stroke-width="1.4" />
<line x1="348.95" y1="1105.40" x2="503.60" y2="1105.40" stroke="#080808" stroke-width="1.5" />
<line x1="381.90" y1="1105.40" x2="381.90" y2="1109.90" stroke="#080808" stroke-width="1.5" />
<line x1="430.80" y1="1105.40" x2="430.80" y2="1109.90" stroke="#080808" stroke-width="1.5" />
<line x1="480.70" y1="1105.40" x2="480.70" y2="1109.90" stroke="#080808" stroke-width="1.5" />
<polyline points="381.90,945.20 381.90,942.00 431.10,942.00 431.10,945.20" fill="none" stroke="#1e1e1e" stroke-width="1.3"/>
<path d="M401.30,933.70L401.30,938.30M399.31,934.85L403.29,937.15M403.29,934.85L399.31,937.15M406.50,933.70L406.50,938.30M404.51,934.85L408.49,937.15M408.49,934.85L404.51,937.15M411.70,933.70L411.70,938.30M409.71,934.85L413.69,937.15M413.69,934.85L409.71,937.15" stroke="#2a2a2a" stroke-width="0.95" fill="none"/>
<polyline points="440.00,978.80 440.00,975.60 480.80,975.60 480.80,978.80" fill="none" stroke="#1e1e1e" stroke-width="1.3"/>
<g font-family="Liberation Sans, sans-serif" style="font-kerning:none;filter:grayscale(1)" stroke="#1c1c1c" stroke-width="0.22">
<text transform="translate(12.60,27.80) scale(0.8428,1)" font-size="18.70" fill="#1c1c1c" stroke-width="0">A</text>
<text transform="translate(62.51,257.20) scale(0.9700,1)" font-size="12.46" fill="#1c1c1c">0</text>
<text transform="translate(49.09,203.80) scale(0.9700,1)" font-size="12.46" fill="#1c1c1c">200</text>
<text transform="translate(49.09,150.40) scale(0.9700,1)" font-size="12.46" fill="#1c1c1c">400</text>
<text transform="translate(49.09,97.00) scale(0.9700,1)" font-size="12.46" fill="#1c1c1c">600</text>
<text transform="translate(49.09,43.60) scale(0.9700,1)" font-size="12.46" fill="#1c1c1c">800</text>
<text transform="translate(76.44,273.60) scale(0.9500,1)" font-size="11.88" fill="#1c1c1c">0</text>
<text transform="translate(128.62,273.60) scale(0.9500,1)" font-size="11.88" fill="#1c1c1c">2</text>
<text transform="translate(180.86,273.60) scale(0.9500,1)" font-size="11.88" fill="#1c1c1c">4</text>
<text transform="translate(232.98,273.60) scale(0.9500,1)" font-size="11.88" fill="#1c1c1c">6</text>
<text transform="translate(82.30,295.80) scale(1.0091,1)" font-size="14.64" fill="#1c1c1c" stroke-width="0.1">t-PA concentration (nM)</text>
<text transform="translate(38.80,189.06) rotate(-90) scale(0.8332,1)" font-size="15.94" fill="#1c1c1c" stroke-width="0.12">PPP CLT (min)</text>
<text transform="translate(223.42,45.30) scale(0.7764,1)" font-size="12.46" fill="#1c1c1c">SS</text>
<text transform="translate(224.20,63.60) scale(0.8832,1)" font-size="12.17" fill="#1c1c1c">AA</text>
<text transform="translate(287.09,27.90) scale(0.8780,1)" font-size="18.70" fill="#1c1c1c" stroke-width="0">B</text>
<text transform="translate(332.31,257.20) scale(0.9700,1)" font-size="12.46" fill="#1c1c1c">0</text>
<text transform="translate(318.89,203.80) scale(0.9700,1)" font-size="12.46" fill="#1c1c1c">200</text>
<text transform="translate(318.89,150.40) scale(0.9700,1)" font-size="12.46" fill="#1c1c1c">400</text>
<text transform="translate(318.89,97.00) scale(0.9700,1)" font-size="12.46" fill="#1c1c1c">600</text>
<text transform="translate(318.89,43.60) scale(0.9700,1)" font-size="12.46" fill="#1c1c1c">800</text>
<text transform="translate(346.64,273.60) scale(0.9500,1)" font-size="11.88" fill="#1c1c1c">0</text>
<text transform="translate(397.18,273.60) scale(0.9500,1)" font-size="11.88" fill="#1c1c1c">2</text>
<text transform="translate(447.78,273.60) scale(0.9500,1)" font-size="11.88" fill="#1c1c1c">4</text>
<text transform="translate(498.26,273.60) scale(0.9500,1)" font-size="11.88" fill="#1c1c1c">6</text>
<text transform="translate(349.70,295.80) scale(1.0091,1)" font-size="14.64" fill="#1c1c1c" stroke-width="0.1">t-PA concentration (nM)</text>
<text transform="translate(308.80,218.75) rotate(-90) scale(0.8967,1)" font-size="16.23" fill="#1c1c1c" stroke-width="0.12">Whole blood CLT (min)</text>
<text transform="translate(488.76,45.30) scale(0.6988,1)" font-size="12.46" fill="#1c1c1c">SS</text>
<text transform="translate(489.20,63.80) scale(0.8148,1)" font-size="12.46" fill="#1c1c1c">AS</text>
<text transform="translate(489.20,82.00) scale(0.8325,1)" font-size="12.46" fill="#1c1c1c">AA</text>
<text transform="translate(11.81,331.00) scale(0.8557,1)" font-size="18.55" fill="#1c1c1c" stroke-width="0">C</text>
<text transform="translate(62.61,550.50) scale(0.9700,1)" font-size="12.46" fill="#1c1c1c">0</text>
<text transform="translate(49.19,499.78) scale(0.9700,1)" font-size="12.46" fill="#1c1c1c">200</text>
<text transform="translate(49.19,449.05) scale(0.9700,1)" font-size="12.46" fill="#1c1c1c">400</text>
<text transform="translate(49.19,398.33) scale(0.9700,1)" font-size="12.46" fill="#1c1c1c">600</text>
<text transform="translate(49.19,347.60) scale(0.9700,1)" font-size="12.46" fill="#1c1c1c">800</text>
<text transform="translate(39.00,512.65) rotate(-90) scale(0.9045,1)" font-size="16.23" fill="#1c1c1c" stroke-width="0.12">Whole blood CLT (min)</text>
<text transform="translate(53.78,567.00) scale(1.0404,1)" font-size="11.88" fill="#1c1c1c">Gen.</text>
<text transform="translate(39.03,586.80) scale(0.8204,1)" font-size="13.19" fill="#1c1c1c">RBC Ex.</text>
<text transform="translate(86.20,566.80) scale(0.9766,1)" font-size="12.32" fill="#1c1c1c">AA</text>
<text transform="translate(116.41,566.80) scale(0.7921,1)" font-size="12.32" fill="#1c1c1c">SS</text>
<text transform="translate(154.71,566.80) scale(0.7921,1)" font-size="12.32" fill="#1c1c1c">SS</text>
<text transform="translate(183.41,566.80) scale(0.7987,1)" font-size="12.32" fill="#1c1c1c">SS</text>
<text transform="translate(91.92,586.80) scale(1.1040,1)" font-size="13.04" fill="#1c1c1c">-</text>
<text transform="translate(120.72,586.80) scale(1.1040,1)" font-size="13.04" fill="#1c1c1c">-</text>
<text transform="translate(154.11,586.80) scale(1.0542,1)" font-size="13.04" fill="#1c1c1c">+</text>
<text transform="translate(185.60,586.80) scale(1.0701,1)" font-size="13.04" fill="#1c1c1c">+</text>
<text transform="translate(148.66,605.70) scale(0.9886,1)" font-size="11.88" fill="#1c1c1c">Pre</text>
<text transform="translate(177.74,605.70) scale(1.0133,1)" font-size="11.88" fill="#1c1c1c">Post</text>
<text transform="translate(287.31,331.00) scale(1.0292,1)" font-size="18.12" fill="#1c1c1c" stroke-width="0">D</text>
<text transform="translate(332.51,550.50) scale(0.9700,1)" font-size="12.46" fill="#1c1c1c">0</text>
<text transform="translate(319.09,499.78) scale(0.9700,1)" font-size="12.46" fill="#1c1c1c">200</text>
<text transform="translate(319.09,449.05) scale(0.9700,1)" font-size="12.46" fill="#1c1c1c">400</text>
<text transform="translate(319.09,398.33) scale(0.9700,1)" font-size="12.46" fill="#1c1c1c">600</text>
<text transform="translate(319.09,347.60) scale(0.9700,1)" font-size="12.46" fill="#1c1c1c">800</text>
<text transform="translate(308.80,512.65) rotate(-90) scale(0.9045,1)" font-size="16.23" fill="#1c1c1c" stroke-width="0.12">Whole blood CLT (min)</text>
<text transform="translate(323.88,567.00) scale(1.0363,1)" font-size="11.88" fill="#1c1c1c">Gen.</text>
<text transform="translate(308.83,586.80) scale(0.8245,1)" font-size="13.19" fill="#1c1c1c">RBC Ex.</text>
<text transform="translate(357.60,566.80) scale(0.9216,1)" font-size="12.32" fill="#1c1c1c">AA</text>
<text transform="translate(389.10,566.80) scale(0.8118,1)" font-size="12.32" fill="#1c1c1c">SS</text>
<text transform="translate(430.91,566.80) scale(0.7921,1)" font-size="12.32" fill="#1c1c1c">SS</text>
<text transform="translate(461.92,566.80) scale(0.7790,1)" font-size="12.32" fill="#1c1c1c">SS</text>
<text transform="translate(362.82,586.80) scale(1.1040,1)" font-size="13.04" fill="#1c1c1c">-</text>
<text transform="translate(393.96,586.80) scale(1.0427,1)" font-size="13.04" fill="#1c1c1c">-</text>
<text transform="translate(433.30,586.80) scale(1.0701,1)" font-size="13.04" fill="#1c1c1c">+</text>
<text transform="translate(464.09,586.80) scale(1.0861,1)" font-size="13.04" fill="#1c1c1c">+</text>
<text transform="translate(427.94,605.70) scale(1.0121,1)" font-size="11.88" fill="#1c1c1c">Pre</text>
<text transform="translate(456.02,605.70) scale(1.0265,1)" font-size="11.88" fill="#1c1c1c">Post</text>
<text transform="translate(11.70,635.60) scale(0.7504,1)" font-size="18.26" fill="#1c1c1c" stroke-width="0">E</text>
<text transform="translate(62.61,858.90) scale(0.9700,1)" font-size="12.46" fill="#1c1c1c">0</text>
<text transform="translate(49.19,807.90) scale(0.9700,1)" font-size="12.46" fill="#1c1c1c">200</text>
<text transform="translate(49.19,756.90) scale(0.9700,1)" font-size="12.46" fill="#1c1c1c">400</text>
<text transform="translate(49.19,705.90) scale(0.9700,1)" font-size="12.46" fill="#1c1c1c">600</text>
<text transform="translate(49.19,654.90) scale(0.9700,1)" font-size="12.46" fill="#1c1c1c">800</text>
<text transform="translate(38.80,825.15) rotate(-90) scale(0.9015,1)" font-size="16.23" fill="#1c1c1c" stroke-width="0.12">Whole blood CLT (min)</text>
<text transform="translate(103.44,874.90) scale(0.9650,1)" font-size="12.46" fill="#1c1c1c">Pre</text>
<text transform="translate(147.27,874.90) scale(0.9367,1)" font-size="12.46" fill="#1c1c1c">Post</text>
<text transform="translate(188.39,874.90) scale(0.9082,1)" font-size="12.46" fill="#1c1c1c">Post+PLT</text>
<text transform="translate(287.46,636.00) scale(0.7701,1)" font-size="18.55" fill="#1c1c1c" stroke-width="0">F</text>
<text transform="translate(332.51,858.30) scale(0.9700,1)" font-size="12.46" fill="#1c1c1c">0</text>
<text transform="translate(319.09,806.80) scale(0.9700,1)" font-size="12.46" fill="#1c1c1c">100</text>
<text transform="translate(319.09,755.30) scale(0.9700,1)" font-size="12.46" fill="#1c1c1c">200</text>
<text transform="translate(319.09,703.80) scale(0.9700,1)" font-size="12.46" fill="#1c1c1c">300</text>
<text transform="translate(319.09,652.30) scale(0.9700,1)" font-size="12.46" fill="#1c1c1c">400</text>
<text transform="translate(308.70,789.34) rotate(-90) scale(0.9167,1)" font-size="15.51" fill="#1c1c1c" stroke-width="0.12">PLT (10<tspan dy="-0.571em" style="font-size:70%">3</tspan><tspan dy="0.4em">/μL)</tspan></text>
<text transform="translate(371.04,875.20) scale(0.9168,1)" font-size="13.04" fill="#1c1c1c">Pre</text>
<text transform="translate(412.22,875.20) scale(0.9353,1)" font-size="13.04" fill="#1c1c1c">Post</text>
<text transform="translate(452.18,875.20) scale(0.8785,1)" font-size="13.04" fill="#1c1c1c">Post+PLT</text>
<text transform="translate(12.11,909.60) scale(0.8889,1)" font-size="17.83" fill="#1c1c1c" stroke-width="0">G</text>
<text transform="translate(62.61,1109.80) scale(0.9700,1)" font-size="12.46" fill="#1c1c1c">0</text>
<text transform="translate(55.96,1055.63) scale(0.9700,1)" font-size="12.46" fill="#1c1c1c">50</text>
<text transform="translate(49.19,1001.47) scale(0.9700,1)" font-size="12.46" fill="#1c1c1c">100</text>
<text transform="translate(49.19,947.30) scale(0.9700,1)" font-size="12.46" fill="#1c1c1c">150</text>
<text transform="translate(39.30,1083.19) rotate(-90) scale(0.9044,1)" font-size="16.09" fill="#1c1c1c" stroke-width="0.12">Total PAI1 (ng/mL)</text>
<text transform="translate(106.87,1126.50) scale(0.9480,1)" font-size="12.32" fill="#1c1c1c">Pre</text>
<text transform="translate(156.17,1126.50) scale(0.9478,1)" font-size="12.32" fill="#1c1c1c">Post</text>
<text transform="translate(201.68,1126.50) scale(0.9358,1)" font-size="12.32" fill="#1c1c1c">Post+PLT</text>
<text transform="translate(286.71,909.70) scale(1.1649,1)" font-size="15.94" fill="#1c1c1c" stroke-width="0.1">H</text>
<text transform="translate(332.71,1109.70) scale(0.9700,1)" font-size="12.46" fill="#1c1c1c">0</text>
<text transform="translate(332.83,1056.70) scale(0.9700,1)" font-size="12.46" fill="#1c1c1c">5</text>
<text transform="translate(326.06,1003.70) scale(0.9700,1)" font-size="12.46" fill="#1c1c1c">10</text>
<text transform="translate(326.06,950.70) scale(0.9700,1)" font-size="12.46" fill="#1c1c1c">15</text>
<text transform="translate(314.60,1088.10) rotate(-90) scale(0.9814,1)" font-size="14.78" fill="#1c1c1c" stroke-width="0.12">Active PAI1 (ng/mL)</text>
<text transform="translate(372.64,1126.60) scale(0.9539,1)" font-size="12.61" fill="#1c1c1c">Pre</text>
<text transform="translate(416.12,1126.60) scale(0.9675,1)" font-size="12.61" fill="#1c1c1c">Post</text>
<text transform="translate(457.08,1126.60) scale(0.9088,1)" font-size="12.61" fill="#1c1c1c">Post+PLT</text>
<text transform="translate(441.87,967.60) scale(1.0352,1)" font-size="11.45" fill="#1c1c1c">p=0.06</text>
</g>
</svg>
</body></html>
